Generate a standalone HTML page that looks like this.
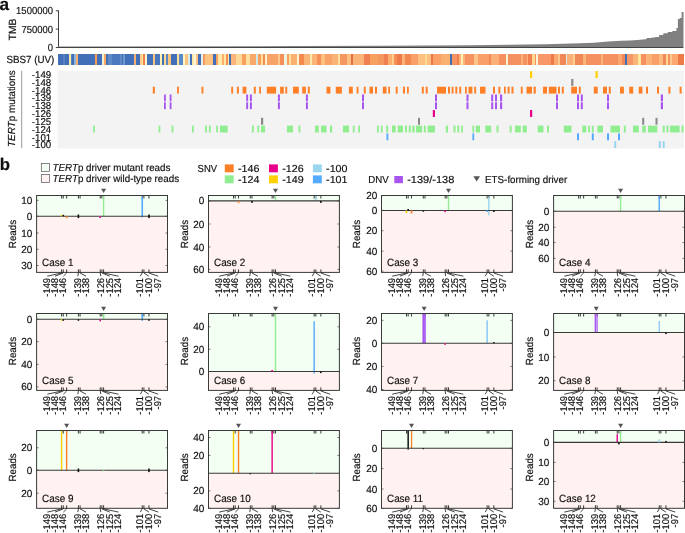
<!DOCTYPE html><html><head><meta charset="utf-8"><style>html,body{margin:0;padding:0;background:#fff;}svg{display:block;filter:grayscale(0);}text{font-family:"Liberation Sans", sans-serif;fill:#111;stroke:#111;stroke-width:0.18px;text-rendering:geometricPrecision;}</style></head><body>
<svg width="685" height="533" viewBox="0 0 685 533">
<text transform="translate(-0.40,9.60)" font-size="17.20" font-weight="bold" fill="#000">a</text>
<line x1="58.5" y1="10.4" x2="58.5" y2="48" stroke="#2a2a2a" stroke-width="0.9"/>
<line x1="55.8" y1="10.8" x2="58.5" y2="10.8" stroke="#2a2a2a" stroke-width="0.9"/>
<text transform="translate(53.00,14.40) scale(0.930,1)" font-size="10.20" text-anchor="end">1500000</text>
<line x1="55.8" y1="29.1" x2="58.5" y2="29.1" stroke="#2a2a2a" stroke-width="0.9"/>
<text transform="translate(53.00,32.70) scale(0.930,1)" font-size="10.20" text-anchor="end">750000</text>
<line x1="55.8" y1="47.5" x2="58.5" y2="47.5" stroke="#2a2a2a" stroke-width="0.9"/>
<text transform="translate(53.00,51.10) scale(0.930,1)" font-size="10.20" text-anchor="end">0</text>
<text transform="translate(15.70,29.50) rotate(-90)" font-size="10.40" text-anchor="middle">TMB</text>
<polygon points="58.0,47.6 58.0,46.5 300.0,46.1 380.0,45.7 470.0,45.2 545.0,44.3 580.0,43.3 594.0,42.8 608.0,41.6 621.0,40.8 630.0,40.5 637.5,40.0 645.7,39.2 645.7,38.9 646.7,38.9 646.7,38.1 651.8,38.1 651.8,37.4 655.0,37.4 655.0,37.0 659.1,37.0 659.1,35.1 663.3,35.1 663.3,33.3 667.8,33.3 667.8,32.1 672.3,32.1 672.3,31.0 676.4,31.0 676.4,28.0 677.9,28.0 677.9,19.0 679.8,19.0 679.8,18.1 681.6,18.1 681.6,12.1 683.5,12.1 683.5,47.6" fill="#808080"/>
<line x1="58" y1="47.5" x2="683.3" y2="47.5" stroke="#444" stroke-width="1.0"/>
<g shape-rendering="crispEdges">
<rect x="57.6" y="54.1" width="5.45" height="10.7" fill="#4170B9"/>
<rect x="63" y="54.1" width="2.05" height="10.7" fill="#5682C2"/>
<rect x="65" y="54.1" width="4.05" height="10.7" fill="#4170B9"/>
<rect x="69" y="54.1" width="1.55" height="10.7" fill="#F8E9A0"/>
<rect x="70.5" y="54.1" width="1.05" height="10.7" fill="#5682C2"/>
<rect x="71.5" y="54.1" width="2.55" height="10.7" fill="#4170B9"/>
<rect x="74" y="54.1" width="1.85" height="10.7" fill="#8DB7DD"/>
<rect x="75.8" y="54.1" width="1.75" height="10.7" fill="#F8B070"/>
<rect x="77.5" y="54.1" width="17.55" height="10.7" fill="#4170B9"/>
<rect x="95" y="54.1" width="2.05" height="10.7" fill="#F59A50"/>
<rect x="97" y="54.1" width="5.05" height="10.7" fill="#4170B9"/>
<rect x="102" y="54.1" width="1.55" height="10.7" fill="#EEF0D0"/>
<rect x="103.5" y="54.1" width="2.55" height="10.7" fill="#F8A860"/>
<rect x="106" y="54.1" width="2.05" height="10.7" fill="#4170B9"/>
<rect x="108" y="54.1" width="4.05" height="10.7" fill="#5E8AC8"/>
<rect x="112" y="54.1" width="8.05" height="10.7" fill="#4A78BC"/>
<rect x="120" y="54.1" width="2.05" height="10.7" fill="#5E8AC8"/>
<rect x="122" y="54.1" width="0.55" height="10.7" fill="#4170B9"/>
<rect x="122.5" y="54.1" width="2.55" height="10.7" fill="#6E97CB"/>
<rect x="125" y="54.1" width="8.85" height="10.7" fill="#4170B9"/>
<rect x="133.8" y="54.1" width="2.05" height="10.7" fill="#F8B070"/>
<rect x="135.8" y="54.1" width="4.25" height="10.7" fill="#4170B9"/>
<rect x="140" y="54.1" width="2.05" height="10.7" fill="#FDCC88"/>
<rect x="142" y="54.1" width="1.35" height="10.7" fill="#FEE8A8"/>
<rect x="143.3" y="54.1" width="1.75" height="10.7" fill="#F0804A"/>
<rect x="145" y="54.1" width="2.05" height="10.7" fill="#FFF6D0"/>
<rect x="147" y="54.1" width="5.75" height="10.7" fill="#4272B8"/>
<rect x="152.7" y="54.1" width="2.05" height="10.7" fill="#FBC27D"/>
<rect x="154.7" y="54.1" width="5.65" height="10.7" fill="#4A78BC"/>
<rect x="160.3" y="54.1" width="1.65" height="10.7" fill="#FEF0B0"/>
<rect x="161.9" y="54.1" width="2.05" height="10.7" fill="#4170B9"/>
<rect x="163.9" y="54.1" width="1.95" height="10.7" fill="#FDD890"/>
<rect x="165.8" y="54.1" width="2.05" height="10.7" fill="#5A87C5"/>
<rect x="167.8" y="54.1" width="3.25" height="10.7" fill="#FDC47E"/>
<rect x="171" y="54.1" width="5.75" height="10.7" fill="#4170B9"/>
<rect x="176.7" y="54.1" width="2.05" height="10.7" fill="#FDE09A"/>
<rect x="178.7" y="54.1" width="4.15" height="10.7" fill="#5A8BC8"/>
<rect x="182.8" y="54.1" width="2.15" height="10.7" fill="#FFF6C8"/>
<rect x="184.9" y="54.1" width="3.05" height="10.7" fill="#FDC47E"/>
<rect x="187.9" y="54.1" width="1.75" height="10.7" fill="#D8ECEE"/>
<rect x="189.6" y="54.1" width="2.65" height="10.7" fill="#4170B9"/>
<rect x="192.2" y="54.1" width="1.55" height="10.7" fill="#FEE8A8"/>
<rect x="193.7" y="54.1" width="2.05" height="10.7" fill="#FFF8D8"/>
<rect x="195.7" y="54.1" width="2.15" height="10.7" fill="#FDC080"/>
<rect x="197.8" y="54.1" width="3.55" height="10.7" fill="#4170B9"/>
<rect x="201.3" y="54.1" width="2.15" height="10.7" fill="#E0F0E8"/>
<rect x="203.4" y="54.1" width="2.05" height="10.7" fill="#F59A60"/>
<rect x="205.4" y="54.1" width="4.15" height="10.7" fill="#FBC480"/>
<rect x="209.5" y="54.1" width="3.15" height="10.7" fill="#FDC080"/>
<rect x="212.6" y="54.1" width="3.65" height="10.7" fill="#4170B9"/>
<rect x="216.2" y="54.1" width="1.55" height="10.7" fill="#F5A060"/>
<rect x="217.7" y="54.1" width="4.65" height="10.7" fill="#FEE8A8"/>
<rect x="222.3" y="54.1" width="1.55" height="10.7" fill="#FBB070"/>
<rect x="223.8" y="54.1" width="2.15" height="10.7" fill="#FEE8A8"/>
<rect x="225.9" y="54.1" width="2.05" height="10.7" fill="#F59050"/>
<rect x="227.9" y="54.1" width="1.55" height="10.7" fill="#FEE8B0"/>
<rect x="229.4" y="54.1" width="1.65" height="10.7" fill="#4170B9"/>
<rect x="231" y="54.1" width="5.05" height="10.7" fill="#FCB478"/>
<rect x="236" y="54.1" width="5.75" height="10.7" fill="#FDD898"/>
<rect x="241.7" y="54.1" width="4.65" height="10.7" fill="#F8A060"/>
<rect x="246.3" y="54.1" width="3.65" height="10.7" fill="#FDE0A0"/>
<rect x="249.9" y="54.1" width="5.75" height="10.7" fill="#F8A868"/>
<rect x="255.6" y="54.1" width="2.15" height="10.7" fill="#D0E8E8"/>
<rect x="257.7" y="54.1" width="3.05" height="10.7" fill="#F8A060"/>
<rect x="260.7" y="54.1" width="2.15" height="10.7" fill="#FDE0A0"/>
<rect x="262.8" y="54.1" width="2.05" height="10.7" fill="#F09050"/>
<rect x="264.8" y="54.1" width="2.15" height="10.7" fill="#FEF0C8"/>
<rect x="266.9" y="54.1" width="10.75" height="10.7" fill="#F8A468"/>
<rect x="277.6" y="54.1" width="2.05" height="10.7" fill="#FBC890"/>
<rect x="279.6" y="54.1" width="4.15" height="10.7" fill="#F59058"/>
<rect x="283.7" y="54.1" width="3.15" height="10.7" fill="#EAF4E0"/>
<rect x="286.8" y="54.1" width="2.05" height="10.7" fill="#F8A060"/>
<rect x="288.8" y="54.1" width="2.15" height="10.7" fill="#FDE0A0"/>
<rect x="290.9" y="54.1" width="6.15" height="10.7" fill="#FAB070"/>
<rect x="297" y="54.1" width="1.55" height="10.7" fill="#FEF4D0"/>
<rect x="298.5" y="54.1" width="5.65" height="10.7" fill="#F58A50"/>
<rect x="304.1" y="54.1" width="6.25" height="10.7" fill="#FBB478"/>
<rect x="310.3" y="54.1" width="1.55" height="10.7" fill="#FDE8A8"/>
<rect x="311.8" y="54.1" width="5.45" height="10.7" fill="#FBB478"/>
<rect x="317.2" y="54.1" width="3.95" height="10.7" fill="#F59058"/>
<rect x="321.1" y="54.1" width="4.15" height="10.7" fill="#FDC080"/>
<rect x="325.2" y="54.1" width="6.75" height="10.7" fill="#F8A468"/>
<rect x="331.9" y="54.1" width="6.15" height="10.7" fill="#FBB478"/>
<rect x="338" y="54.1" width="2.05" height="10.7" fill="#FDE0A0"/>
<rect x="340" y="54.1" width="6.75" height="10.7" fill="#F59860"/>
<rect x="346.7" y="54.1" width="4.05" height="10.7" fill="#FDC080"/>
<rect x="350.7" y="54.1" width="2.15" height="10.7" fill="#E87040"/>
<rect x="352.8" y="54.1" width="11.25" height="10.7" fill="#FBB478"/>
<rect x="364" y="54.1" width="6.25" height="10.7" fill="#F08050"/>
<rect x="370.2" y="54.1" width="8.15" height="10.7" fill="#F8A060"/>
<rect x="378.3" y="54.1" width="5.75" height="10.7" fill="#F59860"/>
<rect x="384" y="54.1" width="4.25" height="10.7" fill="#F08050"/>
<rect x="388.2" y="54.1" width="4.15" height="10.7" fill="#FBB070"/>
<rect x="392.3" y="54.1" width="2.05" height="10.7" fill="#FDD090"/>
<rect x="394.3" y="54.1" width="3.15" height="10.7" fill="#F59058"/>
<rect x="397.4" y="54.1" width="4.15" height="10.7" fill="#EE7A48"/>
<rect x="401.5" y="54.1" width="3.55" height="10.7" fill="#FBB478"/>
<rect x="405" y="54.1" width="5.65" height="10.7" fill="#F08850"/>
<rect x="410.6" y="54.1" width="7.25" height="10.7" fill="#F8A068"/>
<rect x="417.8" y="54.1" width="7.25" height="10.7" fill="#FDC080"/>
<rect x="425" y="54.1" width="2.05" height="10.7" fill="#FDD890"/>
<rect x="427" y="54.1" width="4.05" height="10.7" fill="#FDC080"/>
<rect x="431" y="54.1" width="2.15" height="10.7" fill="#EA7545"/>
<rect x="433.1" y="54.1" width="8.25" height="10.7" fill="#F8A068"/>
<rect x="441.3" y="54.1" width="8.85" height="10.7" fill="#FAB070"/>
<rect x="450.1" y="54.1" width="1.95" height="10.7" fill="#4070B0"/>
<rect x="452" y="54.1" width="5.05" height="10.7" fill="#F59460"/>
<rect x="457" y="54.1" width="2.35" height="10.7" fill="#F08050"/>
<rect x="459.3" y="54.1" width="1.55" height="10.7" fill="#FBB478"/>
<rect x="460.8" y="54.1" width="2.65" height="10.7" fill="#FDF0B0"/>
<rect x="463.4" y="54.1" width="1.55" height="10.7" fill="#FBB478"/>
<rect x="464.9" y="54.1" width="9.25" height="10.7" fill="#F59460"/>
<rect x="474.1" y="54.1" width="3.65" height="10.7" fill="#FDC488"/>
<rect x="477.7" y="54.1" width="11.25" height="10.7" fill="#F8A068"/>
<rect x="488.9" y="54.1" width="2.15" height="10.7" fill="#F08858"/>
<rect x="491" y="54.1" width="8.15" height="10.7" fill="#FAB078"/>
<rect x="499.1" y="54.1" width="6.75" height="10.7" fill="#F59060"/>
<rect x="505.8" y="54.1" width="2.05" height="10.7" fill="#F8F4D0"/>
<rect x="507.8" y="54.1" width="12.95" height="10.7" fill="#F59060"/>
<rect x="520.7" y="54.1" width="2.15" height="10.7" fill="#FBB478"/>
<rect x="522.8" y="54.1" width="4.15" height="10.7" fill="#F59060"/>
<rect x="526.9" y="54.1" width="1.55" height="10.7" fill="#FBB478"/>
<rect x="528.4" y="54.1" width="3.65" height="10.7" fill="#F08050"/>
<rect x="532" y="54.1" width="2.55" height="10.7" fill="#FDD890"/>
<rect x="534.5" y="54.1" width="1.55" height="10.7" fill="#F59060"/>
<rect x="536" y="54.1" width="1.65" height="10.7" fill="#FAF4D8"/>
<rect x="537.6" y="54.1" width="13.35" height="10.7" fill="#F89868"/>
<rect x="550.9" y="54.1" width="3.05" height="10.7" fill="#EE7A4A"/>
<rect x="553.9" y="54.1" width="4.15" height="10.7" fill="#FBA870"/>
<rect x="558" y="54.1" width="2.05" height="10.7" fill="#FDC890"/>
<rect x="560" y="54.1" width="5.75" height="10.7" fill="#F08858"/>
<rect x="565.7" y="54.1" width="1.55" height="10.7" fill="#D8ECE8"/>
<rect x="567.2" y="54.1" width="5.65" height="10.7" fill="#FAB078"/>
<rect x="572.8" y="54.1" width="2.15" height="10.7" fill="#FDD090"/>
<rect x="574.9" y="54.1" width="8.35" height="10.7" fill="#F08858"/>
<rect x="583.2" y="54.1" width="3.05" height="10.7" fill="#FBB478"/>
<rect x="586.2" y="54.1" width="14.35" height="10.7" fill="#F59060"/>
<rect x="600.5" y="54.1" width="2.15" height="10.7" fill="#FBB478"/>
<rect x="602.6" y="54.1" width="15.35" height="10.7" fill="#F59060"/>
<rect x="617.9" y="54.1" width="4.15" height="10.7" fill="#FAA870"/>
<rect x="622" y="54.1" width="3.45" height="10.7" fill="#F08858"/>
<rect x="625.4" y="54.1" width="1.85" height="10.7" fill="#4070B8"/>
<rect x="627.2" y="54.1" width="5.85" height="10.7" fill="#F59868"/>
<rect x="633" y="54.1" width="5.45" height="10.7" fill="#FAB478"/>
<rect x="638.4" y="54.1" width="2.15" height="10.7" fill="#FDE8A0"/>
<rect x="640.5" y="54.1" width="5.15" height="10.7" fill="#F59060"/>
<rect x="645.6" y="54.1" width="6.25" height="10.7" fill="#FBB478"/>
<rect x="651.8" y="54.1" width="7.15" height="10.7" fill="#F8A068"/>
<rect x="658.9" y="54.1" width="4.15" height="10.7" fill="#FDBA80"/>
<rect x="663" y="54.1" width="3.15" height="10.7" fill="#F08858"/>
<rect x="666.1" y="54.1" width="2.05" height="10.7" fill="#FDD890"/>
<rect x="668.1" y="54.1" width="2.15" height="10.7" fill="#F59060"/>
<rect x="670.2" y="54.1" width="2.05" height="10.7" fill="#FDC890"/>
<rect x="672.2" y="54.1" width="5.65" height="10.7" fill="#FAA870"/>
<rect x="677.8" y="54.1" width="6.35" height="10.7" fill="#EE7A48"/>
</g>
<text transform="translate(54.30,62.80) scale(0.950,1)" font-size="10.30" text-anchor="end">SBS7 (UV)</text>
<rect x="57.6" y="70.7" width="626.4" height="77.8" fill="#F3F3F3"/>
<line x1="21.7" y1="70.7" x2="21.7" y2="148.2" stroke="#999" stroke-width="1"/>
<text transform="translate(14.60,108.60) rotate(-90) scale(0.970,1)" font-size="10.20" text-anchor="middle"><tspan font-style="italic">TERT</tspan>p mutations</text>
<text transform="translate(51.20,78.00) scale(0.980,1)" font-size="9.90" text-anchor="end">-149</text>
<text transform="translate(51.20,85.83) scale(0.980,1)" font-size="9.90" text-anchor="end">-148</text>
<text transform="translate(51.20,93.66) scale(0.980,1)" font-size="9.90" text-anchor="end">-146</text>
<text transform="translate(51.20,101.49) scale(0.980,1)" font-size="9.90" text-anchor="end">-139</text>
<text transform="translate(51.20,109.32) scale(0.980,1)" font-size="9.90" text-anchor="end">-138</text>
<text transform="translate(51.20,117.15) scale(0.980,1)" font-size="9.90" text-anchor="end">-126</text>
<text transform="translate(51.20,124.98) scale(0.980,1)" font-size="9.90" text-anchor="end">-125</text>
<text transform="translate(51.20,132.81) scale(0.980,1)" font-size="9.90" text-anchor="end">-124</text>
<text transform="translate(51.20,140.64) scale(0.980,1)" font-size="9.90" text-anchor="end">-101</text>
<text transform="translate(51.20,148.47) scale(0.980,1)" font-size="9.90" text-anchor="end">-100</text>
<rect x="530.00" y="71.15" width="2.20" height="6.88" fill="#FFD000"/>
<rect x="595.50" y="71.15" width="2.20" height="6.88" fill="#FFD000"/>
<rect x="571.20" y="78.93" width="2.20" height="6.88" fill="#888888"/>
<rect x="152.80" y="86.71" width="2.10" height="6.88" fill="#FF7F27"/>
<rect x="177.10" y="86.71" width="1.80" height="6.88" fill="#FF7F27"/>
<rect x="201.50" y="86.71" width="1.90" height="6.88" fill="#FF7F27"/>
<rect x="231.20" y="86.71" width="1.90" height="6.88" fill="#FF7F27"/>
<rect x="236.90" y="86.71" width="2.00" height="6.88" fill="#FF7F27"/>
<rect x="242.60" y="86.71" width="3.80" height="6.88" fill="#FF7F27"/>
<rect x="253.80" y="86.71" width="2.00" height="6.88" fill="#FF7F27"/>
<rect x="259.20" y="86.71" width="1.80" height="6.88" fill="#FF7F27"/>
<rect x="266.80" y="86.71" width="9.30" height="6.88" fill="#FF7F27"/>
<rect x="280.10" y="86.71" width="3.70" height="6.88" fill="#FF7F27"/>
<rect x="285.30" y="86.71" width="1.90" height="6.88" fill="#FF7F27"/>
<rect x="293.00" y="86.71" width="5.80" height="6.88" fill="#FF7F27"/>
<rect x="302.20" y="86.71" width="3.70" height="6.88" fill="#FF7F27"/>
<rect x="307.80" y="86.71" width="2.00" height="6.88" fill="#FF7F27"/>
<rect x="326.50" y="86.71" width="3.90" height="6.88" fill="#FF7F27"/>
<rect x="335.80" y="86.71" width="6.10" height="6.88" fill="#FF7F27"/>
<rect x="348.90" y="86.71" width="3.90" height="6.88" fill="#FF7F27"/>
<rect x="356.60" y="86.71" width="1.90" height="6.88" fill="#FF7F27"/>
<rect x="363.80" y="86.71" width="1.90" height="6.88" fill="#FF7F27"/>
<rect x="369.50" y="86.71" width="3.50" height="6.88" fill="#FF7F27"/>
<rect x="375.00" y="86.71" width="2.00" height="6.88" fill="#FF7F27"/>
<rect x="382.80" y="86.71" width="3.70" height="6.88" fill="#FF7F27"/>
<rect x="388.20" y="86.71" width="1.80" height="6.88" fill="#FF7F27"/>
<rect x="395.70" y="86.71" width="2.00" height="6.88" fill="#FF7F27"/>
<rect x="403.00" y="86.71" width="2.00" height="6.88" fill="#FF7F27"/>
<rect x="407.00" y="86.71" width="1.80" height="6.88" fill="#FF7F27"/>
<rect x="421.80" y="86.71" width="2.00" height="6.88" fill="#FF7F27"/>
<rect x="425.70" y="86.71" width="2.00" height="6.88" fill="#FF7F27"/>
<rect x="437.00" y="86.71" width="9.00" height="6.88" fill="#FF7F27"/>
<rect x="448.00" y="86.71" width="2.00" height="6.88" fill="#FF7F27"/>
<rect x="451.60" y="86.71" width="1.90" height="6.88" fill="#FF7F27"/>
<rect x="455.30" y="86.71" width="2.00" height="6.88" fill="#FF7F27"/>
<rect x="459.20" y="86.71" width="2.00" height="6.88" fill="#FF7F27"/>
<rect x="465.00" y="86.71" width="1.80" height="6.88" fill="#FF7F27"/>
<rect x="468.50" y="86.71" width="3.90" height="6.88" fill="#FF7F27"/>
<rect x="474.20" y="86.71" width="1.90" height="6.88" fill="#FF7F27"/>
<rect x="480.00" y="86.71" width="5.50" height="6.88" fill="#FF7F27"/>
<rect x="493.00" y="86.71" width="2.00" height="6.88" fill="#FF7F27"/>
<rect x="498.40" y="86.71" width="2.00" height="6.88" fill="#FF7F27"/>
<rect x="504.00" y="86.71" width="1.80" height="6.88" fill="#FF7F27"/>
<rect x="507.60" y="86.71" width="2.00" height="6.88" fill="#FF7F27"/>
<rect x="511.50" y="86.71" width="2.00" height="6.88" fill="#FF7F27"/>
<rect x="520.80" y="86.71" width="1.90" height="6.88" fill="#FF7F27"/>
<rect x="526.50" y="86.71" width="5.50" height="6.88" fill="#FF7F27"/>
<rect x="533.60" y="86.71" width="2.20" height="6.88" fill="#FF7F27"/>
<rect x="543.00" y="86.71" width="4.00" height="6.88" fill="#FF7F27"/>
<rect x="548.80" y="86.71" width="7.70" height="6.88" fill="#FF7F27"/>
<rect x="558.00" y="86.71" width="2.00" height="6.88" fill="#FF7F27"/>
<rect x="561.80" y="86.71" width="2.00" height="6.88" fill="#FF7F27"/>
<rect x="571.20" y="86.71" width="5.80" height="6.88" fill="#FF7F27"/>
<rect x="578.80" y="86.71" width="2.00" height="6.88" fill="#FF7F27"/>
<rect x="593.80" y="86.71" width="3.90" height="6.88" fill="#FF7F27"/>
<rect x="603.00" y="86.71" width="4.00" height="6.88" fill="#FF7F27"/>
<rect x="608.80" y="86.71" width="2.00" height="6.88" fill="#FF7F27"/>
<rect x="620.00" y="86.71" width="3.90" height="6.88" fill="#FF7F27"/>
<rect x="629.20" y="86.71" width="4.00" height="6.88" fill="#FF7F27"/>
<rect x="638.70" y="86.71" width="3.70" height="6.88" fill="#FF7F27"/>
<rect x="646.00" y="86.71" width="2.00" height="6.88" fill="#FF7F27"/>
<rect x="657.00" y="86.71" width="2.00" height="6.88" fill="#FF7F27"/>
<rect x="668.40" y="86.71" width="2.00" height="6.88" fill="#FF7F27"/>
<rect x="679.60" y="86.71" width="2.00" height="6.88" fill="#FF7F27"/>
<rect x="432.80" y="110.05" width="2.20" height="6.88" fill="#E8008A"/>
<rect x="530.00" y="110.05" width="2.20" height="6.88" fill="#E8008A"/>
<rect x="261.00" y="117.83" width="2.20" height="6.88" fill="#888888"/>
<rect x="418.00" y="117.83" width="2.00" height="6.88" fill="#888888"/>
<rect x="642.20" y="117.83" width="2.00" height="6.88" fill="#888888"/>
<rect x="655.50" y="117.83" width="2.00" height="6.88" fill="#888888"/>
<rect x="93.20" y="125.61" width="1.80" height="6.88" fill="#90EE90"/>
<rect x="158.50" y="125.61" width="1.80" height="6.88" fill="#90EE90"/>
<rect x="171.50" y="125.61" width="1.90" height="6.88" fill="#90EE90"/>
<rect x="192.00" y="125.61" width="1.80" height="6.88" fill="#90EE90"/>
<rect x="205.00" y="125.61" width="1.90" height="6.88" fill="#90EE90"/>
<rect x="208.90" y="125.61" width="1.90" height="6.88" fill="#90EE90"/>
<rect x="216.20" y="125.61" width="1.80" height="6.88" fill="#90EE90"/>
<rect x="220.00" y="125.61" width="7.70" height="6.88" fill="#90EE90"/>
<rect x="251.90" y="125.61" width="1.90" height="6.88" fill="#90EE90"/>
<rect x="257.30" y="125.61" width="1.90" height="6.88" fill="#90EE90"/>
<rect x="261.00" y="125.61" width="4.00" height="6.88" fill="#90EE90"/>
<rect x="287.00" y="125.61" width="6.00" height="6.88" fill="#90EE90"/>
<rect x="298.50" y="125.61" width="1.90" height="6.88" fill="#90EE90"/>
<rect x="315.00" y="125.61" width="3.80" height="6.88" fill="#90EE90"/>
<rect x="321.00" y="125.61" width="5.50" height="6.88" fill="#90EE90"/>
<rect x="330.00" y="125.61" width="2.20" height="6.88" fill="#90EE90"/>
<rect x="343.00" y="125.61" width="6.00" height="6.88" fill="#90EE90"/>
<rect x="352.80" y="125.61" width="1.80" height="6.88" fill="#90EE90"/>
<rect x="358.20" y="125.61" width="1.80" height="6.88" fill="#90EE90"/>
<rect x="377.00" y="125.61" width="1.80" height="6.88" fill="#90EE90"/>
<rect x="380.80" y="125.61" width="1.80" height="6.88" fill="#90EE90"/>
<rect x="386.20" y="125.61" width="2.00" height="6.88" fill="#90EE90"/>
<rect x="392.00" y="125.61" width="3.70" height="6.88" fill="#90EE90"/>
<rect x="397.70" y="125.61" width="5.30" height="6.88" fill="#90EE90"/>
<rect x="405.00" y="125.61" width="2.00" height="6.88" fill="#90EE90"/>
<rect x="408.80" y="125.61" width="2.00" height="6.88" fill="#90EE90"/>
<rect x="412.30" y="125.61" width="2.30" height="6.88" fill="#90EE90"/>
<rect x="416.00" y="125.61" width="6.00" height="6.88" fill="#90EE90"/>
<rect x="423.80" y="125.61" width="2.00" height="6.88" fill="#90EE90"/>
<rect x="427.70" y="125.61" width="7.30" height="6.88" fill="#90EE90"/>
<rect x="445.80" y="125.61" width="2.20" height="6.88" fill="#90EE90"/>
<rect x="453.50" y="125.61" width="2.00" height="6.88" fill="#90EE90"/>
<rect x="457.30" y="125.61" width="2.00" height="6.88" fill="#90EE90"/>
<rect x="461.20" y="125.61" width="1.80" height="6.88" fill="#90EE90"/>
<rect x="472.40" y="125.61" width="1.80" height="6.88" fill="#90EE90"/>
<rect x="475.80" y="125.61" width="4.20" height="6.88" fill="#90EE90"/>
<rect x="485.30" y="125.61" width="5.90" height="6.88" fill="#90EE90"/>
<rect x="496.50" y="125.61" width="2.00" height="6.88" fill="#90EE90"/>
<rect x="509.60" y="125.61" width="2.00" height="6.88" fill="#90EE90"/>
<rect x="515.00" y="125.61" width="5.80" height="6.88" fill="#90EE90"/>
<rect x="522.70" y="125.61" width="4.10" height="6.88" fill="#90EE90"/>
<rect x="537.70" y="125.61" width="5.70" height="6.88" fill="#90EE90"/>
<rect x="547.00" y="125.61" width="2.00" height="6.88" fill="#90EE90"/>
<rect x="563.80" y="125.61" width="7.70" height="6.88" fill="#90EE90"/>
<rect x="582.30" y="125.61" width="3.90" height="6.88" fill="#90EE90"/>
<rect x="588.20" y="125.61" width="1.80" height="6.88" fill="#90EE90"/>
<rect x="591.80" y="125.61" width="2.00" height="6.88" fill="#90EE90"/>
<rect x="597.40" y="125.61" width="5.60" height="6.88" fill="#90EE90"/>
<rect x="610.50" y="125.61" width="9.50" height="6.88" fill="#90EE90"/>
<rect x="623.80" y="125.61" width="2.00" height="6.88" fill="#90EE90"/>
<rect x="633.00" y="125.61" width="5.80" height="6.88" fill="#90EE90"/>
<rect x="642.20" y="125.61" width="3.60" height="6.88" fill="#90EE90"/>
<rect x="648.00" y="125.61" width="9.30" height="6.88" fill="#90EE90"/>
<rect x="662.70" y="125.61" width="2.00" height="6.88" fill="#90EE90"/>
<rect x="666.50" y="125.61" width="2.00" height="6.88" fill="#90EE90"/>
<rect x="670.00" y="125.61" width="9.60" height="6.88" fill="#90EE90"/>
<rect x="681.50" y="125.61" width="2.00" height="6.88" fill="#90EE90"/>
<rect x="386.50" y="133.39" width="1.80" height="6.88" fill="#55AAFF"/>
<rect x="472.40" y="133.39" width="1.80" height="6.88" fill="#55AAFF"/>
<rect x="577.00" y="133.39" width="2.00" height="6.88" fill="#55AAFF"/>
<rect x="591.80" y="133.39" width="2.00" height="6.88" fill="#55AAFF"/>
<rect x="607.00" y="133.39" width="2.00" height="6.88" fill="#55AAFF"/>
<rect x="618.00" y="133.39" width="2.00" height="6.88" fill="#55AAFF"/>
<rect x="614.20" y="141.17" width="2.00" height="6.88" fill="#9AD5F0"/>
<rect x="658.80" y="141.17" width="2.00" height="6.88" fill="#9AD5F0"/>
<rect x="662.70" y="141.17" width="2.00" height="6.88" fill="#9AD5F0"/>
<rect x="164.00" y="94.49" width="1.80" height="6.88" fill="#A855F0"/>
<rect x="169.70" y="94.49" width="1.80" height="6.88" fill="#A855F0"/>
<rect x="246.20" y="94.49" width="1.90" height="6.88" fill="#A855F0"/>
<rect x="249.90" y="94.49" width="2.00" height="6.88" fill="#A855F0"/>
<rect x="277.90" y="94.49" width="2.00" height="6.88" fill="#A855F0"/>
<rect x="305.90" y="94.49" width="2.00" height="6.88" fill="#A855F0"/>
<rect x="362.00" y="94.49" width="2.00" height="6.88" fill="#A855F0"/>
<rect x="435.00" y="94.49" width="2.00" height="6.88" fill="#A855F0"/>
<rect x="466.50" y="94.49" width="2.00" height="6.88" fill="#A855F0"/>
<rect x="491.20" y="94.49" width="2.00" height="6.88" fill="#A855F0"/>
<rect x="495.00" y="94.49" width="2.00" height="6.88" fill="#A855F0"/>
<rect x="500.00" y="94.49" width="2.20" height="6.88" fill="#A855F0"/>
<rect x="556.00" y="94.49" width="2.00" height="6.88" fill="#A855F0"/>
<rect x="577.00" y="94.49" width="2.00" height="6.88" fill="#A855F0"/>
<rect x="580.80" y="94.49" width="2.00" height="6.88" fill="#A855F0"/>
<rect x="607.00" y="94.49" width="2.00" height="6.88" fill="#A855F0"/>
<rect x="660.80" y="94.49" width="2.20" height="6.88" fill="#A855F0"/>
<rect x="164.00" y="102.27" width="1.80" height="6.88" fill="#A855F0"/>
<rect x="169.70" y="102.27" width="1.80" height="6.88" fill="#A855F0"/>
<rect x="246.20" y="102.27" width="1.90" height="6.88" fill="#A855F0"/>
<rect x="249.90" y="102.27" width="2.00" height="6.88" fill="#A855F0"/>
<rect x="277.90" y="102.27" width="2.00" height="6.88" fill="#A855F0"/>
<rect x="305.90" y="102.27" width="2.00" height="6.88" fill="#A855F0"/>
<rect x="362.00" y="102.27" width="2.00" height="6.88" fill="#A855F0"/>
<rect x="435.00" y="102.27" width="2.00" height="6.88" fill="#A855F0"/>
<rect x="466.50" y="102.27" width="2.00" height="6.88" fill="#A855F0"/>
<rect x="491.20" y="102.27" width="2.00" height="6.88" fill="#A855F0"/>
<rect x="495.00" y="102.27" width="2.00" height="6.88" fill="#A855F0"/>
<rect x="500.00" y="102.27" width="2.20" height="6.88" fill="#A855F0"/>
<rect x="556.00" y="102.27" width="2.00" height="6.88" fill="#A855F0"/>
<rect x="577.00" y="102.27" width="2.00" height="6.88" fill="#A855F0"/>
<rect x="580.80" y="102.27" width="2.00" height="6.88" fill="#A855F0"/>
<rect x="607.00" y="102.27" width="2.00" height="6.88" fill="#A855F0"/>
<rect x="660.80" y="102.27" width="2.20" height="6.88" fill="#A855F0"/>
<text transform="translate(-0.20,170.20)" font-size="16.80" font-weight="bold" fill="#000">b</text>
<rect x="41.3" y="163.5" width="8.1" height="7.9" fill="#F2FFF2" stroke="#555" stroke-width="0.7"/>
<rect x="41.3" y="174.5" width="8.1" height="7.9" fill="#FFF2F0" stroke="#555" stroke-width="0.7"/>
<text transform="translate(52.60,170.80) scale(0.960,1)" font-size="10.20"><tspan font-style="italic">TERT</tspan>p driver mutant reads</text>
<text transform="translate(52.60,181.60) scale(0.960,1)" font-size="10.20"><tspan font-style="italic">TERT</tspan>p driver wild-type reads</text>
<text transform="translate(197.60,172.10) scale(0.930,1)" font-size="10.20">SNV</text>
<rect x="224.8" y="164.4" width="8.9" height="7.9" fill="#FF7F27"/>
<text transform="translate(238.00,172.10) scale(1.050,1)" font-size="10.20">-146</text>
<rect x="224.8" y="175.4" width="8.9" height="7.9" fill="#90EE90"/>
<text transform="translate(238.00,183.00) scale(1.050,1)" font-size="10.20">-124</text>
<rect x="269.0" y="164.4" width="8.9" height="7.9" fill="#E8008A"/>
<text transform="translate(282.20,172.10) scale(1.050,1)" font-size="10.20">-126</text>
<rect x="269.0" y="175.4" width="8.9" height="7.9" fill="#FFD000"/>
<text transform="translate(282.20,183.00) scale(1.050,1)" font-size="10.20">-149</text>
<rect x="312.9" y="164.4" width="8.9" height="7.9" fill="#9AD5F0"/>
<text transform="translate(326.10,172.10) scale(1.050,1)" font-size="10.20">-100</text>
<rect x="312.9" y="175.4" width="8.9" height="7.9" fill="#55AAFF"/>
<text transform="translate(326.10,183.00) scale(1.050,1)" font-size="10.20">-101</text>
<text transform="translate(368.20,183.00) scale(0.950,1)" font-size="10.20">DNV</text>
<rect x="394.3" y="176.0" width="8.6" height="7.2" fill="#A855F0"/>
<text transform="translate(407.20,183.00) scale(1.080,1)" font-size="10.20">-139/-138</text>
<polygon points="473.4,176.2 480.0,176.2 476.7,181.6" fill="#555"/>
<text transform="translate(485.10,183.00) scale(0.960,1)" font-size="10.20">ETS-forming driver</text>
<rect x="36.6" y="195.5" width="130.9" height="20.80" fill="#F2FFF2"/>
<rect x="36.6" y="216.3" width="130.9" height="56.10" fill="#FFF2F0"/>
<line x1="61.60" y1="195.5" x2="61.60" y2="198.50" stroke="#222" stroke-width="0.9"/>
<line x1="61.60" y1="272.4" x2="61.60" y2="269.40" stroke="#222" stroke-width="0.9"/>
<line x1="63.28" y1="195.5" x2="63.28" y2="198.50" stroke="#222" stroke-width="0.9"/>
<line x1="63.28" y1="272.4" x2="63.28" y2="269.40" stroke="#222" stroke-width="0.9"/>
<line x1="66.64" y1="195.5" x2="66.64" y2="198.50" stroke="#222" stroke-width="0.9"/>
<line x1="66.64" y1="272.4" x2="66.64" y2="269.40" stroke="#222" stroke-width="0.9"/>
<line x1="78.40" y1="195.5" x2="78.40" y2="198.50" stroke="#222" stroke-width="0.9"/>
<line x1="78.40" y1="272.4" x2="78.40" y2="269.40" stroke="#222" stroke-width="0.9"/>
<line x1="80.08" y1="195.5" x2="80.08" y2="198.50" stroke="#222" stroke-width="0.9"/>
<line x1="80.08" y1="272.4" x2="80.08" y2="269.40" stroke="#222" stroke-width="0.9"/>
<line x1="100.24" y1="195.5" x2="100.24" y2="198.50" stroke="#222" stroke-width="0.9"/>
<line x1="100.24" y1="272.4" x2="100.24" y2="269.40" stroke="#222" stroke-width="0.9"/>
<line x1="101.92" y1="195.5" x2="101.92" y2="198.50" stroke="#222" stroke-width="0.9"/>
<line x1="101.92" y1="272.4" x2="101.92" y2="269.40" stroke="#222" stroke-width="0.9"/>
<line x1="103.60" y1="195.5" x2="103.60" y2="198.50" stroke="#222" stroke-width="0.9"/>
<line x1="103.60" y1="272.4" x2="103.60" y2="269.40" stroke="#222" stroke-width="0.9"/>
<line x1="142.24" y1="195.5" x2="142.24" y2="198.50" stroke="#222" stroke-width="0.9"/>
<line x1="142.24" y1="272.4" x2="142.24" y2="269.40" stroke="#222" stroke-width="0.9"/>
<line x1="143.92" y1="195.5" x2="143.92" y2="198.50" stroke="#222" stroke-width="0.9"/>
<line x1="143.92" y1="272.4" x2="143.92" y2="269.40" stroke="#222" stroke-width="0.9"/>
<line x1="148.96" y1="195.5" x2="148.96" y2="198.50" stroke="#222" stroke-width="0.9"/>
<line x1="148.96" y1="272.4" x2="148.96" y2="269.40" stroke="#222" stroke-width="0.9"/>
<line x1="36.6" y1="200.4" x2="38.6" y2="200.4" stroke="#444" stroke-width="0.7"/>
<line x1="165.5" y1="200.4" x2="167.5" y2="200.4" stroke="#444" stroke-width="0.7"/>
<text transform="translate(32.40,203.90) scale(0.970,1)" font-size="10.30" text-anchor="end">10</text>
<line x1="36.6" y1="216.3" x2="38.6" y2="216.3" stroke="#444" stroke-width="0.7"/>
<line x1="165.5" y1="216.3" x2="167.5" y2="216.3" stroke="#444" stroke-width="0.7"/>
<text transform="translate(32.40,219.80) scale(0.970,1)" font-size="10.30" text-anchor="end">0</text>
<line x1="36.6" y1="233.0" x2="38.6" y2="233.0" stroke="#444" stroke-width="0.7"/>
<line x1="165.5" y1="233.0" x2="167.5" y2="233.0" stroke="#444" stroke-width="0.7"/>
<text transform="translate(32.40,236.50) scale(0.970,1)" font-size="10.30" text-anchor="end">10</text>
<line x1="36.6" y1="249.3" x2="38.6" y2="249.3" stroke="#444" stroke-width="0.7"/>
<line x1="165.5" y1="249.3" x2="167.5" y2="249.3" stroke="#444" stroke-width="0.7"/>
<text transform="translate(32.40,252.80) scale(0.970,1)" font-size="10.30" text-anchor="end">20</text>
<line x1="36.6" y1="265.5" x2="38.6" y2="265.5" stroke="#444" stroke-width="0.7"/>
<line x1="165.5" y1="265.5" x2="167.5" y2="265.5" stroke="#444" stroke-width="0.7"/>
<text transform="translate(32.40,269.00) scale(0.970,1)" font-size="10.30" text-anchor="end">30</text>
<rect x="102.95" y="195.50" width="1.3" height="20.80" fill="#90EE90"/>
<rect x="141.44" y="196.70" width="1.6" height="20.70" fill="#55AAFF"/>
<line x1="36.6" y1="216.3" x2="167.5" y2="216.3" stroke="#3a3a3a" stroke-width="1.1"/>
<rect x="60.80" y="214.90" width="1.6" height="1.4" fill="#FFD000"/>
<rect x="62.48" y="214.80" width="1.6" height="1.5" fill="#111"/>
<rect x="65.84" y="216.30" width="1.6" height="1.8" fill="#FF7F27"/>
<rect x="77.60" y="214.50" width="1.6" height="3.6" fill="#111"/>
<rect x="99.44" y="216.30" width="1.6" height="1.6" fill="#E8008A"/>
<rect x="148.16" y="214.50" width="1.6" height="3.6" fill="#111"/>
<rect x="36.6" y="195.5" width="130.9" height="76.90" fill="none" stroke="#3a3a3a" stroke-width="1"/>
<polygon points="101.10,188.70 106.10,188.70 103.60,193.10" fill="#555"/>
<text transform="translate(42.10,265.80) scale(0.940,1)" font-size="10.50">Case 1</text>
<text transform="translate(15.90,234.00) rotate(-90) scale(0.950,1)" font-size="10.30" text-anchor="middle">Reads</text>
<polyline points="61.60,272.4 61.60,273.00 47.30,276.20" fill="none" stroke="#222" stroke-width="0.85"/>
<text transform="translate(50.10,277.90) rotate(-90) scale(0.960,1)" font-size="9.80" text-anchor="end">-149</text>
<polyline points="63.28,272.4 63.28,273.00 55.00,276.20" fill="none" stroke="#222" stroke-width="0.85"/>
<text transform="translate(57.80,277.90) rotate(-90) scale(0.960,1)" font-size="9.80" text-anchor="end">-148</text>
<polyline points="66.64,272.4 66.64,273.00 63.40,276.20" fill="none" stroke="#222" stroke-width="0.85"/>
<text transform="translate(66.20,277.90) rotate(-90) scale(0.960,1)" font-size="9.80" text-anchor="end">-146</text>
<polyline points="78.40,272.4 78.40,273.00 77.80,276.20" fill="none" stroke="#222" stroke-width="0.85"/>
<text transform="translate(80.60,277.90) rotate(-90) scale(0.960,1)" font-size="9.80" text-anchor="end">-139</text>
<polyline points="80.08,272.4 80.08,273.00 86.00,276.20" fill="none" stroke="#222" stroke-width="0.85"/>
<text transform="translate(88.80,277.90) rotate(-90) scale(0.960,1)" font-size="9.80" text-anchor="end">-138</text>
<polyline points="100.24,272.4 100.24,273.00 100.80,276.20" fill="none" stroke="#222" stroke-width="0.85"/>
<text transform="translate(103.60,277.90) rotate(-90) scale(0.960,1)" font-size="9.80" text-anchor="end">-126</text>
<polyline points="101.92,272.4 101.92,273.00 109.80,276.20" fill="none" stroke="#222" stroke-width="0.85"/>
<text transform="translate(112.60,277.90) rotate(-90) scale(0.960,1)" font-size="9.80" text-anchor="end">-125</text>
<polyline points="103.60,272.4 103.60,273.00 118.50,276.20" fill="none" stroke="#222" stroke-width="0.85"/>
<text transform="translate(121.30,277.90) rotate(-90) scale(0.960,1)" font-size="9.80" text-anchor="end">-124</text>
<polyline points="142.24,272.4 142.24,273.00 140.30,276.20" fill="none" stroke="#222" stroke-width="0.85"/>
<text transform="translate(143.10,277.90) rotate(-90) scale(0.960,1)" font-size="9.80" text-anchor="end">-101</text>
<polyline points="143.92,272.4 143.92,273.00 148.90,276.20" fill="none" stroke="#222" stroke-width="0.85"/>
<text transform="translate(151.70,277.90) rotate(-90) scale(0.960,1)" font-size="9.80" text-anchor="end">-100</text>
<polyline points="148.96,272.4 148.96,273.00 158.20,276.20" fill="none" stroke="#222" stroke-width="0.85"/>
<text transform="translate(161.00,277.90) rotate(-90) scale(0.960,1)" font-size="9.80" text-anchor="end">-97</text>
<rect x="208.5" y="195.5" width="130.9" height="5.40" fill="#F2FFF2"/>
<rect x="208.5" y="200.9" width="130.9" height="71.50" fill="#FFF2F0"/>
<line x1="233.50" y1="195.5" x2="233.50" y2="198.50" stroke="#222" stroke-width="0.9"/>
<line x1="233.50" y1="272.4" x2="233.50" y2="269.40" stroke="#222" stroke-width="0.9"/>
<line x1="235.18" y1="195.5" x2="235.18" y2="198.50" stroke="#222" stroke-width="0.9"/>
<line x1="235.18" y1="272.4" x2="235.18" y2="269.40" stroke="#222" stroke-width="0.9"/>
<line x1="238.54" y1="195.5" x2="238.54" y2="198.50" stroke="#222" stroke-width="0.9"/>
<line x1="238.54" y1="272.4" x2="238.54" y2="269.40" stroke="#222" stroke-width="0.9"/>
<line x1="250.30" y1="195.5" x2="250.30" y2="198.50" stroke="#222" stroke-width="0.9"/>
<line x1="250.30" y1="272.4" x2="250.30" y2="269.40" stroke="#222" stroke-width="0.9"/>
<line x1="251.98" y1="195.5" x2="251.98" y2="198.50" stroke="#222" stroke-width="0.9"/>
<line x1="251.98" y1="272.4" x2="251.98" y2="269.40" stroke="#222" stroke-width="0.9"/>
<line x1="272.14" y1="195.5" x2="272.14" y2="198.50" stroke="#222" stroke-width="0.9"/>
<line x1="272.14" y1="272.4" x2="272.14" y2="269.40" stroke="#222" stroke-width="0.9"/>
<line x1="273.82" y1="195.5" x2="273.82" y2="198.50" stroke="#222" stroke-width="0.9"/>
<line x1="273.82" y1="272.4" x2="273.82" y2="269.40" stroke="#222" stroke-width="0.9"/>
<line x1="275.50" y1="195.5" x2="275.50" y2="198.50" stroke="#222" stroke-width="0.9"/>
<line x1="275.50" y1="272.4" x2="275.50" y2="269.40" stroke="#222" stroke-width="0.9"/>
<line x1="314.14" y1="195.5" x2="314.14" y2="198.50" stroke="#222" stroke-width="0.9"/>
<line x1="314.14" y1="272.4" x2="314.14" y2="269.40" stroke="#222" stroke-width="0.9"/>
<line x1="315.82" y1="195.5" x2="315.82" y2="198.50" stroke="#222" stroke-width="0.9"/>
<line x1="315.82" y1="272.4" x2="315.82" y2="269.40" stroke="#222" stroke-width="0.9"/>
<line x1="320.86" y1="195.5" x2="320.86" y2="198.50" stroke="#222" stroke-width="0.9"/>
<line x1="320.86" y1="272.4" x2="320.86" y2="269.40" stroke="#222" stroke-width="0.9"/>
<line x1="208.5" y1="200.9" x2="210.5" y2="200.9" stroke="#444" stroke-width="0.7"/>
<line x1="337.4" y1="200.9" x2="339.4" y2="200.9" stroke="#444" stroke-width="0.7"/>
<text transform="translate(204.30,204.40) scale(0.970,1)" font-size="10.30" text-anchor="end">0</text>
<line x1="208.5" y1="224.0" x2="210.5" y2="224.0" stroke="#444" stroke-width="0.7"/>
<line x1="337.4" y1="224.0" x2="339.4" y2="224.0" stroke="#444" stroke-width="0.7"/>
<text transform="translate(204.30,227.50) scale(0.970,1)" font-size="10.30" text-anchor="end">20</text>
<line x1="208.5" y1="247.0" x2="210.5" y2="247.0" stroke="#444" stroke-width="0.7"/>
<line x1="337.4" y1="247.0" x2="339.4" y2="247.0" stroke="#444" stroke-width="0.7"/>
<text transform="translate(204.30,250.50) scale(0.970,1)" font-size="10.30" text-anchor="end">40</text>
<line x1="208.5" y1="269.4" x2="210.5" y2="269.4" stroke="#444" stroke-width="0.7"/>
<line x1="337.4" y1="269.4" x2="339.4" y2="269.4" stroke="#444" stroke-width="0.7"/>
<text transform="translate(204.30,272.90) scale(0.970,1)" font-size="10.30" text-anchor="end">60</text>
<rect x="274.85" y="195.50" width="1.3" height="5.40" fill="#90EE90"/>
<rect x="315.17" y="195.50" width="1.3" height="5.40" fill="#9AD5F0"/>
<line x1="208.5" y1="200.9" x2="339.4" y2="200.9" stroke="#3a3a3a" stroke-width="1.1"/>
<rect x="237.74" y="200.90" width="1.6" height="2" fill="#FF7F27"/>
<rect x="251.18" y="200.90" width="1.6" height="2" fill="#111"/>
<rect x="320.06" y="200.90" width="1.6" height="2" fill="#111"/>
<rect x="208.5" y="195.5" width="130.9" height="76.90" fill="none" stroke="#3a3a3a" stroke-width="1"/>
<polygon points="273.00,188.70 278.00,188.70 275.50,193.10" fill="#555"/>
<text transform="translate(214.00,265.80) scale(0.940,1)" font-size="10.50">Case 2</text>
<text transform="translate(187.60,234.00) rotate(-90) scale(0.950,1)" font-size="10.30" text-anchor="middle">Reads</text>
<polyline points="233.50,272.4 233.50,273.00 219.20,276.20" fill="none" stroke="#222" stroke-width="0.85"/>
<text transform="translate(222.00,277.90) rotate(-90) scale(0.960,1)" font-size="9.80" text-anchor="end">-149</text>
<polyline points="235.18,272.4 235.18,273.00 226.90,276.20" fill="none" stroke="#222" stroke-width="0.85"/>
<text transform="translate(229.70,277.90) rotate(-90) scale(0.960,1)" font-size="9.80" text-anchor="end">-148</text>
<polyline points="238.54,272.4 238.54,273.00 235.30,276.20" fill="none" stroke="#222" stroke-width="0.85"/>
<text transform="translate(238.10,277.90) rotate(-90) scale(0.960,1)" font-size="9.80" text-anchor="end">-146</text>
<polyline points="250.30,272.4 250.30,273.00 249.70,276.20" fill="none" stroke="#222" stroke-width="0.85"/>
<text transform="translate(252.50,277.90) rotate(-90) scale(0.960,1)" font-size="9.80" text-anchor="end">-139</text>
<polyline points="251.98,272.4 251.98,273.00 257.90,276.20" fill="none" stroke="#222" stroke-width="0.85"/>
<text transform="translate(260.70,277.90) rotate(-90) scale(0.960,1)" font-size="9.80" text-anchor="end">-138</text>
<polyline points="272.14,272.4 272.14,273.00 272.70,276.20" fill="none" stroke="#222" stroke-width="0.85"/>
<text transform="translate(275.50,277.90) rotate(-90) scale(0.960,1)" font-size="9.80" text-anchor="end">-126</text>
<polyline points="273.82,272.4 273.82,273.00 281.70,276.20" fill="none" stroke="#222" stroke-width="0.85"/>
<text transform="translate(284.50,277.90) rotate(-90) scale(0.960,1)" font-size="9.80" text-anchor="end">-125</text>
<polyline points="275.50,272.4 275.50,273.00 290.40,276.20" fill="none" stroke="#222" stroke-width="0.85"/>
<text transform="translate(293.20,277.90) rotate(-90) scale(0.960,1)" font-size="9.80" text-anchor="end">-124</text>
<polyline points="314.14,272.4 314.14,273.00 312.20,276.20" fill="none" stroke="#222" stroke-width="0.85"/>
<text transform="translate(315.00,277.90) rotate(-90) scale(0.960,1)" font-size="9.80" text-anchor="end">-101</text>
<polyline points="315.82,272.4 315.82,273.00 320.80,276.20" fill="none" stroke="#222" stroke-width="0.85"/>
<text transform="translate(323.60,277.90) rotate(-90) scale(0.960,1)" font-size="9.80" text-anchor="end">-100</text>
<polyline points="320.86,272.4 320.86,273.00 330.10,276.20" fill="none" stroke="#222" stroke-width="0.85"/>
<text transform="translate(332.90,277.90) rotate(-90) scale(0.960,1)" font-size="9.80" text-anchor="end">-97</text>
<rect x="381.5" y="195.5" width="130.9" height="15.00" fill="#F2FFF2"/>
<rect x="381.5" y="210.5" width="130.9" height="61.90" fill="#FFF2F0"/>
<line x1="406.50" y1="195.5" x2="406.50" y2="198.50" stroke="#222" stroke-width="0.9"/>
<line x1="406.50" y1="272.4" x2="406.50" y2="269.40" stroke="#222" stroke-width="0.9"/>
<line x1="408.18" y1="195.5" x2="408.18" y2="198.50" stroke="#222" stroke-width="0.9"/>
<line x1="408.18" y1="272.4" x2="408.18" y2="269.40" stroke="#222" stroke-width="0.9"/>
<line x1="411.54" y1="195.5" x2="411.54" y2="198.50" stroke="#222" stroke-width="0.9"/>
<line x1="411.54" y1="272.4" x2="411.54" y2="269.40" stroke="#222" stroke-width="0.9"/>
<line x1="423.30" y1="195.5" x2="423.30" y2="198.50" stroke="#222" stroke-width="0.9"/>
<line x1="423.30" y1="272.4" x2="423.30" y2="269.40" stroke="#222" stroke-width="0.9"/>
<line x1="424.98" y1="195.5" x2="424.98" y2="198.50" stroke="#222" stroke-width="0.9"/>
<line x1="424.98" y1="272.4" x2="424.98" y2="269.40" stroke="#222" stroke-width="0.9"/>
<line x1="445.14" y1="195.5" x2="445.14" y2="198.50" stroke="#222" stroke-width="0.9"/>
<line x1="445.14" y1="272.4" x2="445.14" y2="269.40" stroke="#222" stroke-width="0.9"/>
<line x1="446.82" y1="195.5" x2="446.82" y2="198.50" stroke="#222" stroke-width="0.9"/>
<line x1="446.82" y1="272.4" x2="446.82" y2="269.40" stroke="#222" stroke-width="0.9"/>
<line x1="448.50" y1="195.5" x2="448.50" y2="198.50" stroke="#222" stroke-width="0.9"/>
<line x1="448.50" y1="272.4" x2="448.50" y2="269.40" stroke="#222" stroke-width="0.9"/>
<line x1="487.14" y1="195.5" x2="487.14" y2="198.50" stroke="#222" stroke-width="0.9"/>
<line x1="487.14" y1="272.4" x2="487.14" y2="269.40" stroke="#222" stroke-width="0.9"/>
<line x1="488.82" y1="195.5" x2="488.82" y2="198.50" stroke="#222" stroke-width="0.9"/>
<line x1="488.82" y1="272.4" x2="488.82" y2="269.40" stroke="#222" stroke-width="0.9"/>
<line x1="493.86" y1="195.5" x2="493.86" y2="198.50" stroke="#222" stroke-width="0.9"/>
<line x1="493.86" y1="272.4" x2="493.86" y2="269.40" stroke="#222" stroke-width="0.9"/>
<line x1="381.5" y1="195.6" x2="383.5" y2="195.6" stroke="#444" stroke-width="0.7"/>
<line x1="510.4" y1="195.6" x2="512.4" y2="195.6" stroke="#444" stroke-width="0.7"/>
<text transform="translate(377.30,199.10) scale(0.970,1)" font-size="10.30" text-anchor="end">20</text>
<line x1="381.5" y1="210.4" x2="383.5" y2="210.4" stroke="#444" stroke-width="0.7"/>
<line x1="510.4" y1="210.4" x2="512.4" y2="210.4" stroke="#444" stroke-width="0.7"/>
<text transform="translate(377.30,213.90) scale(0.970,1)" font-size="10.30" text-anchor="end">0</text>
<line x1="381.5" y1="230.7" x2="383.5" y2="230.7" stroke="#444" stroke-width="0.7"/>
<line x1="510.4" y1="230.7" x2="512.4" y2="230.7" stroke="#444" stroke-width="0.7"/>
<text transform="translate(377.30,234.20) scale(0.970,1)" font-size="10.30" text-anchor="end">20</text>
<line x1="381.5" y1="251.1" x2="383.5" y2="251.1" stroke="#444" stroke-width="0.7"/>
<line x1="510.4" y1="251.1" x2="512.4" y2="251.1" stroke="#444" stroke-width="0.7"/>
<text transform="translate(377.30,254.60) scale(0.970,1)" font-size="10.30" text-anchor="end">40</text>
<line x1="381.5" y1="271.2" x2="383.5" y2="271.2" stroke="#444" stroke-width="0.7"/>
<line x1="510.4" y1="271.2" x2="512.4" y2="271.2" stroke="#444" stroke-width="0.7"/>
<text transform="translate(377.30,274.70) scale(0.970,1)" font-size="10.30" text-anchor="end">60</text>
<rect x="447.85" y="195.50" width="1.3" height="15.00" fill="#90EE90"/>
<rect x="488.12" y="196.80" width="1.4" height="18.50" fill="#9AD5F0"/>
<line x1="381.5" y1="210.5" x2="512.4" y2="210.5" stroke="#3a3a3a" stroke-width="1.1"/>
<rect x="405.70" y="210.50" width="1.6" height="2.4" fill="#FFD000"/>
<rect x="407.38" y="209.00" width="1.6" height="1.5" fill="#111"/>
<rect x="410.74" y="210.50" width="1.6" height="3" fill="#FF7F27"/>
<rect x="422.50" y="210.50" width="1.6" height="1.2" fill="#111"/>
<rect x="444.34" y="210.50" width="1.6" height="1.6" fill="#E8008A"/>
<rect x="493.06" y="210.50" width="1.6" height="1.5" fill="#111"/>
<rect x="486.34" y="210.50" width="1.6" height="1.5" fill="#55AAFF"/>
<rect x="381.5" y="195.5" width="130.9" height="76.90" fill="none" stroke="#3a3a3a" stroke-width="1"/>
<polygon points="446.00,188.70 451.00,188.70 448.50,193.10" fill="#555"/>
<text transform="translate(387.00,265.80) scale(0.940,1)" font-size="10.50">Case 3</text>
<text transform="translate(359.80,234.00) rotate(-90) scale(0.950,1)" font-size="10.30" text-anchor="middle">Reads</text>
<polyline points="406.50,272.4 406.50,273.00 392.20,276.20" fill="none" stroke="#222" stroke-width="0.85"/>
<text transform="translate(395.00,277.90) rotate(-90) scale(0.960,1)" font-size="9.80" text-anchor="end">-149</text>
<polyline points="408.18,272.4 408.18,273.00 399.90,276.20" fill="none" stroke="#222" stroke-width="0.85"/>
<text transform="translate(402.70,277.90) rotate(-90) scale(0.960,1)" font-size="9.80" text-anchor="end">-148</text>
<polyline points="411.54,272.4 411.54,273.00 408.30,276.20" fill="none" stroke="#222" stroke-width="0.85"/>
<text transform="translate(411.10,277.90) rotate(-90) scale(0.960,1)" font-size="9.80" text-anchor="end">-146</text>
<polyline points="423.30,272.4 423.30,273.00 422.70,276.20" fill="none" stroke="#222" stroke-width="0.85"/>
<text transform="translate(425.50,277.90) rotate(-90) scale(0.960,1)" font-size="9.80" text-anchor="end">-139</text>
<polyline points="424.98,272.4 424.98,273.00 430.90,276.20" fill="none" stroke="#222" stroke-width="0.85"/>
<text transform="translate(433.70,277.90) rotate(-90) scale(0.960,1)" font-size="9.80" text-anchor="end">-138</text>
<polyline points="445.14,272.4 445.14,273.00 445.70,276.20" fill="none" stroke="#222" stroke-width="0.85"/>
<text transform="translate(448.50,277.90) rotate(-90) scale(0.960,1)" font-size="9.80" text-anchor="end">-126</text>
<polyline points="446.82,272.4 446.82,273.00 454.70,276.20" fill="none" stroke="#222" stroke-width="0.85"/>
<text transform="translate(457.50,277.90) rotate(-90) scale(0.960,1)" font-size="9.80" text-anchor="end">-125</text>
<polyline points="448.50,272.4 448.50,273.00 463.40,276.20" fill="none" stroke="#222" stroke-width="0.85"/>
<text transform="translate(466.20,277.90) rotate(-90) scale(0.960,1)" font-size="9.80" text-anchor="end">-124</text>
<polyline points="487.14,272.4 487.14,273.00 485.20,276.20" fill="none" stroke="#222" stroke-width="0.85"/>
<text transform="translate(488.00,277.90) rotate(-90) scale(0.960,1)" font-size="9.80" text-anchor="end">-101</text>
<polyline points="488.82,272.4 488.82,273.00 493.80,276.20" fill="none" stroke="#222" stroke-width="0.85"/>
<text transform="translate(496.60,277.90) rotate(-90) scale(0.960,1)" font-size="9.80" text-anchor="end">-100</text>
<polyline points="493.86,272.4 493.86,273.00 503.10,276.20" fill="none" stroke="#222" stroke-width="0.85"/>
<text transform="translate(505.90,277.90) rotate(-90) scale(0.960,1)" font-size="9.80" text-anchor="end">-97</text>
<rect x="553.6" y="195.5" width="130.9" height="15.80" fill="#F2FFF2"/>
<rect x="553.6" y="211.3" width="130.9" height="61.10" fill="#FFF2F0"/>
<line x1="578.60" y1="195.5" x2="578.60" y2="198.50" stroke="#222" stroke-width="0.9"/>
<line x1="578.60" y1="272.4" x2="578.60" y2="269.40" stroke="#222" stroke-width="0.9"/>
<line x1="580.28" y1="195.5" x2="580.28" y2="198.50" stroke="#222" stroke-width="0.9"/>
<line x1="580.28" y1="272.4" x2="580.28" y2="269.40" stroke="#222" stroke-width="0.9"/>
<line x1="583.64" y1="195.5" x2="583.64" y2="198.50" stroke="#222" stroke-width="0.9"/>
<line x1="583.64" y1="272.4" x2="583.64" y2="269.40" stroke="#222" stroke-width="0.9"/>
<line x1="595.40" y1="195.5" x2="595.40" y2="198.50" stroke="#222" stroke-width="0.9"/>
<line x1="595.40" y1="272.4" x2="595.40" y2="269.40" stroke="#222" stroke-width="0.9"/>
<line x1="597.08" y1="195.5" x2="597.08" y2="198.50" stroke="#222" stroke-width="0.9"/>
<line x1="597.08" y1="272.4" x2="597.08" y2="269.40" stroke="#222" stroke-width="0.9"/>
<line x1="617.24" y1="195.5" x2="617.24" y2="198.50" stroke="#222" stroke-width="0.9"/>
<line x1="617.24" y1="272.4" x2="617.24" y2="269.40" stroke="#222" stroke-width="0.9"/>
<line x1="618.92" y1="195.5" x2="618.92" y2="198.50" stroke="#222" stroke-width="0.9"/>
<line x1="618.92" y1="272.4" x2="618.92" y2="269.40" stroke="#222" stroke-width="0.9"/>
<line x1="620.60" y1="195.5" x2="620.60" y2="198.50" stroke="#222" stroke-width="0.9"/>
<line x1="620.60" y1="272.4" x2="620.60" y2="269.40" stroke="#222" stroke-width="0.9"/>
<line x1="659.24" y1="195.5" x2="659.24" y2="198.50" stroke="#222" stroke-width="0.9"/>
<line x1="659.24" y1="272.4" x2="659.24" y2="269.40" stroke="#222" stroke-width="0.9"/>
<line x1="660.92" y1="195.5" x2="660.92" y2="198.50" stroke="#222" stroke-width="0.9"/>
<line x1="660.92" y1="272.4" x2="660.92" y2="269.40" stroke="#222" stroke-width="0.9"/>
<line x1="665.96" y1="195.5" x2="665.96" y2="198.50" stroke="#222" stroke-width="0.9"/>
<line x1="665.96" y1="272.4" x2="665.96" y2="269.40" stroke="#222" stroke-width="0.9"/>
<line x1="553.6" y1="211.3" x2="555.6" y2="211.3" stroke="#444" stroke-width="0.7"/>
<line x1="682.5" y1="211.3" x2="684.5" y2="211.3" stroke="#444" stroke-width="0.7"/>
<text transform="translate(549.40,214.80) scale(0.970,1)" font-size="10.30" text-anchor="end">0</text>
<line x1="553.6" y1="227.3" x2="555.6" y2="227.3" stroke="#444" stroke-width="0.7"/>
<line x1="682.5" y1="227.3" x2="684.5" y2="227.3" stroke="#444" stroke-width="0.7"/>
<text transform="translate(549.40,230.80) scale(0.970,1)" font-size="10.30" text-anchor="end">20</text>
<line x1="553.6" y1="242.6" x2="555.6" y2="242.6" stroke="#444" stroke-width="0.7"/>
<line x1="682.5" y1="242.6" x2="684.5" y2="242.6" stroke="#444" stroke-width="0.7"/>
<text transform="translate(549.40,246.10) scale(0.970,1)" font-size="10.30" text-anchor="end">40</text>
<line x1="553.6" y1="258.4" x2="555.6" y2="258.4" stroke="#444" stroke-width="0.7"/>
<line x1="682.5" y1="258.4" x2="684.5" y2="258.4" stroke="#444" stroke-width="0.7"/>
<text transform="translate(549.40,261.90) scale(0.970,1)" font-size="10.30" text-anchor="end">60</text>
<rect x="619.95" y="195.50" width="1.3" height="15.80" fill="#90EE90"/>
<rect x="658.54" y="195.50" width="1.4" height="15.80" fill="#55AAFF"/>
<line x1="553.6" y1="211.3" x2="684.5" y2="211.3" stroke="#3a3a3a" stroke-width="1.1"/>
<rect x="553.6" y="195.5" width="130.9" height="76.90" fill="none" stroke="#3a3a3a" stroke-width="1"/>
<polygon points="618.10,188.70 623.10,188.70 620.60,193.10" fill="#555"/>
<text transform="translate(559.10,265.80) scale(0.940,1)" font-size="10.50">Case 4</text>
<text transform="translate(533.00,234.00) rotate(-90) scale(0.950,1)" font-size="10.30" text-anchor="middle">Reads</text>
<polyline points="578.60,272.4 578.60,273.00 564.30,276.20" fill="none" stroke="#222" stroke-width="0.85"/>
<text transform="translate(567.10,277.90) rotate(-90) scale(0.960,1)" font-size="9.80" text-anchor="end">-149</text>
<polyline points="580.28,272.4 580.28,273.00 572.00,276.20" fill="none" stroke="#222" stroke-width="0.85"/>
<text transform="translate(574.80,277.90) rotate(-90) scale(0.960,1)" font-size="9.80" text-anchor="end">-148</text>
<polyline points="583.64,272.4 583.64,273.00 580.40,276.20" fill="none" stroke="#222" stroke-width="0.85"/>
<text transform="translate(583.20,277.90) rotate(-90) scale(0.960,1)" font-size="9.80" text-anchor="end">-146</text>
<polyline points="595.40,272.4 595.40,273.00 594.80,276.20" fill="none" stroke="#222" stroke-width="0.85"/>
<text transform="translate(597.60,277.90) rotate(-90) scale(0.960,1)" font-size="9.80" text-anchor="end">-139</text>
<polyline points="597.08,272.4 597.08,273.00 603.00,276.20" fill="none" stroke="#222" stroke-width="0.85"/>
<text transform="translate(605.80,277.90) rotate(-90) scale(0.960,1)" font-size="9.80" text-anchor="end">-138</text>
<polyline points="617.24,272.4 617.24,273.00 617.80,276.20" fill="none" stroke="#222" stroke-width="0.85"/>
<text transform="translate(620.60,277.90) rotate(-90) scale(0.960,1)" font-size="9.80" text-anchor="end">-126</text>
<polyline points="618.92,272.4 618.92,273.00 626.80,276.20" fill="none" stroke="#222" stroke-width="0.85"/>
<text transform="translate(629.60,277.90) rotate(-90) scale(0.960,1)" font-size="9.80" text-anchor="end">-125</text>
<polyline points="620.60,272.4 620.60,273.00 635.50,276.20" fill="none" stroke="#222" stroke-width="0.85"/>
<text transform="translate(638.30,277.90) rotate(-90) scale(0.960,1)" font-size="9.80" text-anchor="end">-124</text>
<polyline points="659.24,272.4 659.24,273.00 657.30,276.20" fill="none" stroke="#222" stroke-width="0.85"/>
<text transform="translate(660.10,277.90) rotate(-90) scale(0.960,1)" font-size="9.80" text-anchor="end">-101</text>
<polyline points="660.92,272.4 660.92,273.00 665.90,276.20" fill="none" stroke="#222" stroke-width="0.85"/>
<text transform="translate(668.70,277.90) rotate(-90) scale(0.960,1)" font-size="9.80" text-anchor="end">-100</text>
<polyline points="665.96,272.4 665.96,273.00 675.20,276.20" fill="none" stroke="#222" stroke-width="0.85"/>
<text transform="translate(678.00,277.90) rotate(-90) scale(0.960,1)" font-size="9.80" text-anchor="end">-97</text>
<rect x="36.6" y="313.5" width="130.9" height="5.80" fill="#F2FFF2"/>
<rect x="36.6" y="319.3" width="130.9" height="71.10" fill="#FFF2F0"/>
<line x1="61.60" y1="313.5" x2="61.60" y2="316.50" stroke="#222" stroke-width="0.9"/>
<line x1="61.60" y1="390.4" x2="61.60" y2="387.40" stroke="#222" stroke-width="0.9"/>
<line x1="63.28" y1="313.5" x2="63.28" y2="316.50" stroke="#222" stroke-width="0.9"/>
<line x1="63.28" y1="390.4" x2="63.28" y2="387.40" stroke="#222" stroke-width="0.9"/>
<line x1="66.64" y1="313.5" x2="66.64" y2="316.50" stroke="#222" stroke-width="0.9"/>
<line x1="66.64" y1="390.4" x2="66.64" y2="387.40" stroke="#222" stroke-width="0.9"/>
<line x1="78.40" y1="313.5" x2="78.40" y2="316.50" stroke="#222" stroke-width="0.9"/>
<line x1="78.40" y1="390.4" x2="78.40" y2="387.40" stroke="#222" stroke-width="0.9"/>
<line x1="80.08" y1="313.5" x2="80.08" y2="316.50" stroke="#222" stroke-width="0.9"/>
<line x1="80.08" y1="390.4" x2="80.08" y2="387.40" stroke="#222" stroke-width="0.9"/>
<line x1="100.24" y1="313.5" x2="100.24" y2="316.50" stroke="#222" stroke-width="0.9"/>
<line x1="100.24" y1="390.4" x2="100.24" y2="387.40" stroke="#222" stroke-width="0.9"/>
<line x1="101.92" y1="313.5" x2="101.92" y2="316.50" stroke="#222" stroke-width="0.9"/>
<line x1="101.92" y1="390.4" x2="101.92" y2="387.40" stroke="#222" stroke-width="0.9"/>
<line x1="103.60" y1="313.5" x2="103.60" y2="316.50" stroke="#222" stroke-width="0.9"/>
<line x1="103.60" y1="390.4" x2="103.60" y2="387.40" stroke="#222" stroke-width="0.9"/>
<line x1="142.24" y1="313.5" x2="142.24" y2="316.50" stroke="#222" stroke-width="0.9"/>
<line x1="142.24" y1="390.4" x2="142.24" y2="387.40" stroke="#222" stroke-width="0.9"/>
<line x1="143.92" y1="313.5" x2="143.92" y2="316.50" stroke="#222" stroke-width="0.9"/>
<line x1="143.92" y1="390.4" x2="143.92" y2="387.40" stroke="#222" stroke-width="0.9"/>
<line x1="148.96" y1="313.5" x2="148.96" y2="316.50" stroke="#222" stroke-width="0.9"/>
<line x1="148.96" y1="390.4" x2="148.96" y2="387.40" stroke="#222" stroke-width="0.9"/>
<line x1="36.6" y1="319.3" x2="38.6" y2="319.3" stroke="#444" stroke-width="0.7"/>
<line x1="165.5" y1="319.3" x2="167.5" y2="319.3" stroke="#444" stroke-width="0.7"/>
<text transform="translate(32.40,322.80) scale(0.970,1)" font-size="10.30" text-anchor="end">0</text>
<line x1="36.6" y1="341.6" x2="38.6" y2="341.6" stroke="#444" stroke-width="0.7"/>
<line x1="165.5" y1="341.6" x2="167.5" y2="341.6" stroke="#444" stroke-width="0.7"/>
<text transform="translate(32.40,345.10) scale(0.970,1)" font-size="10.30" text-anchor="end">20</text>
<line x1="36.6" y1="364.4" x2="38.6" y2="364.4" stroke="#444" stroke-width="0.7"/>
<line x1="165.5" y1="364.4" x2="167.5" y2="364.4" stroke="#444" stroke-width="0.7"/>
<text transform="translate(32.40,367.90) scale(0.970,1)" font-size="10.30" text-anchor="end">40</text>
<line x1="36.6" y1="386.9" x2="38.6" y2="386.9" stroke="#444" stroke-width="0.7"/>
<line x1="165.5" y1="386.9" x2="167.5" y2="386.9" stroke="#444" stroke-width="0.7"/>
<text transform="translate(32.40,390.40) scale(0.970,1)" font-size="10.30" text-anchor="end">60</text>
<rect x="102.95" y="313.50" width="1.3" height="5.80" fill="#90EE90"/>
<rect x="141.44" y="313.50" width="1.6" height="7.40" fill="#55AAFF"/>
<line x1="36.6" y1="319.3" x2="167.5" y2="319.3" stroke="#3a3a3a" stroke-width="1.1"/>
<rect x="60.80" y="319.30" width="1.6" height="1.5" fill="#FFD000"/>
<rect x="62.48" y="319.30" width="1.6" height="1.5" fill="#111"/>
<rect x="77.60" y="319.30" width="1.6" height="1.5" fill="#111"/>
<rect x="99.44" y="319.30" width="1.6" height="2" fill="#E8008A"/>
<rect x="148.16" y="319.30" width="1.6" height="1.5" fill="#111"/>
<rect x="36.6" y="313.5" width="130.9" height="76.90" fill="none" stroke="#3a3a3a" stroke-width="1"/>
<polygon points="101.10,306.70 106.10,306.70 103.60,311.10" fill="#555"/>
<text transform="translate(42.10,383.80) scale(0.940,1)" font-size="10.50">Case 5</text>
<text transform="translate(15.90,351.00) rotate(-90) scale(0.950,1)" font-size="10.30" text-anchor="middle">Reads</text>
<polyline points="61.60,390.4 61.60,391.00 47.30,394.20" fill="none" stroke="#222" stroke-width="0.85"/>
<text transform="translate(50.10,395.90) rotate(-90) scale(0.960,1)" font-size="9.80" text-anchor="end">-149</text>
<polyline points="63.28,390.4 63.28,391.00 55.00,394.20" fill="none" stroke="#222" stroke-width="0.85"/>
<text transform="translate(57.80,395.90) rotate(-90) scale(0.960,1)" font-size="9.80" text-anchor="end">-148</text>
<polyline points="66.64,390.4 66.64,391.00 63.40,394.20" fill="none" stroke="#222" stroke-width="0.85"/>
<text transform="translate(66.20,395.90) rotate(-90) scale(0.960,1)" font-size="9.80" text-anchor="end">-146</text>
<polyline points="78.40,390.4 78.40,391.00 77.80,394.20" fill="none" stroke="#222" stroke-width="0.85"/>
<text transform="translate(80.60,395.90) rotate(-90) scale(0.960,1)" font-size="9.80" text-anchor="end">-139</text>
<polyline points="80.08,390.4 80.08,391.00 86.00,394.20" fill="none" stroke="#222" stroke-width="0.85"/>
<text transform="translate(88.80,395.90) rotate(-90) scale(0.960,1)" font-size="9.80" text-anchor="end">-138</text>
<polyline points="100.24,390.4 100.24,391.00 100.80,394.20" fill="none" stroke="#222" stroke-width="0.85"/>
<text transform="translate(103.60,395.90) rotate(-90) scale(0.960,1)" font-size="9.80" text-anchor="end">-126</text>
<polyline points="101.92,390.4 101.92,391.00 109.80,394.20" fill="none" stroke="#222" stroke-width="0.85"/>
<text transform="translate(112.60,395.90) rotate(-90) scale(0.960,1)" font-size="9.80" text-anchor="end">-125</text>
<polyline points="103.60,390.4 103.60,391.00 118.50,394.20" fill="none" stroke="#222" stroke-width="0.85"/>
<text transform="translate(121.30,395.90) rotate(-90) scale(0.960,1)" font-size="9.80" text-anchor="end">-124</text>
<polyline points="142.24,390.4 142.24,391.00 140.30,394.20" fill="none" stroke="#222" stroke-width="0.85"/>
<text transform="translate(143.10,395.90) rotate(-90) scale(0.960,1)" font-size="9.80" text-anchor="end">-101</text>
<polyline points="143.92,390.4 143.92,391.00 148.90,394.20" fill="none" stroke="#222" stroke-width="0.85"/>
<text transform="translate(151.70,395.90) rotate(-90) scale(0.960,1)" font-size="9.80" text-anchor="end">-100</text>
<polyline points="148.96,390.4 148.96,391.00 158.20,394.20" fill="none" stroke="#222" stroke-width="0.85"/>
<text transform="translate(161.00,395.90) rotate(-90) scale(0.960,1)" font-size="9.80" text-anchor="end">-97</text>
<rect x="208.5" y="313.5" width="130.9" height="58.00" fill="#F2FFF2"/>
<rect x="208.5" y="371.5" width="130.9" height="18.90" fill="#FFF2F0"/>
<line x1="233.50" y1="313.5" x2="233.50" y2="316.50" stroke="#222" stroke-width="0.9"/>
<line x1="233.50" y1="390.4" x2="233.50" y2="387.40" stroke="#222" stroke-width="0.9"/>
<line x1="235.18" y1="313.5" x2="235.18" y2="316.50" stroke="#222" stroke-width="0.9"/>
<line x1="235.18" y1="390.4" x2="235.18" y2="387.40" stroke="#222" stroke-width="0.9"/>
<line x1="238.54" y1="313.5" x2="238.54" y2="316.50" stroke="#222" stroke-width="0.9"/>
<line x1="238.54" y1="390.4" x2="238.54" y2="387.40" stroke="#222" stroke-width="0.9"/>
<line x1="250.30" y1="313.5" x2="250.30" y2="316.50" stroke="#222" stroke-width="0.9"/>
<line x1="250.30" y1="390.4" x2="250.30" y2="387.40" stroke="#222" stroke-width="0.9"/>
<line x1="251.98" y1="313.5" x2="251.98" y2="316.50" stroke="#222" stroke-width="0.9"/>
<line x1="251.98" y1="390.4" x2="251.98" y2="387.40" stroke="#222" stroke-width="0.9"/>
<line x1="272.14" y1="313.5" x2="272.14" y2="316.50" stroke="#222" stroke-width="0.9"/>
<line x1="272.14" y1="390.4" x2="272.14" y2="387.40" stroke="#222" stroke-width="0.9"/>
<line x1="273.82" y1="313.5" x2="273.82" y2="316.50" stroke="#222" stroke-width="0.9"/>
<line x1="273.82" y1="390.4" x2="273.82" y2="387.40" stroke="#222" stroke-width="0.9"/>
<line x1="275.50" y1="313.5" x2="275.50" y2="316.50" stroke="#222" stroke-width="0.9"/>
<line x1="275.50" y1="390.4" x2="275.50" y2="387.40" stroke="#222" stroke-width="0.9"/>
<line x1="314.14" y1="313.5" x2="314.14" y2="316.50" stroke="#222" stroke-width="0.9"/>
<line x1="314.14" y1="390.4" x2="314.14" y2="387.40" stroke="#222" stroke-width="0.9"/>
<line x1="315.82" y1="313.5" x2="315.82" y2="316.50" stroke="#222" stroke-width="0.9"/>
<line x1="315.82" y1="390.4" x2="315.82" y2="387.40" stroke="#222" stroke-width="0.9"/>
<line x1="320.86" y1="313.5" x2="320.86" y2="316.50" stroke="#222" stroke-width="0.9"/>
<line x1="320.86" y1="390.4" x2="320.86" y2="387.40" stroke="#222" stroke-width="0.9"/>
<line x1="208.5" y1="326.8" x2="210.5" y2="326.8" stroke="#444" stroke-width="0.7"/>
<line x1="337.4" y1="326.8" x2="339.4" y2="326.8" stroke="#444" stroke-width="0.7"/>
<text transform="translate(204.30,330.30) scale(0.970,1)" font-size="10.30" text-anchor="end">40</text>
<line x1="208.5" y1="349.3" x2="210.5" y2="349.3" stroke="#444" stroke-width="0.7"/>
<line x1="337.4" y1="349.3" x2="339.4" y2="349.3" stroke="#444" stroke-width="0.7"/>
<text transform="translate(204.30,352.80) scale(0.970,1)" font-size="10.30" text-anchor="end">20</text>
<line x1="208.5" y1="371.5" x2="210.5" y2="371.5" stroke="#444" stroke-width="0.7"/>
<line x1="337.4" y1="371.5" x2="339.4" y2="371.5" stroke="#444" stroke-width="0.7"/>
<text transform="translate(204.30,375.00) scale(0.970,1)" font-size="10.30" text-anchor="end">0</text>
<rect x="274.80" y="313.50" width="1.4" height="58.00" fill="#90EE90"/>
<rect x="313.44" y="321.20" width="1.4" height="52.30" fill="#55AAFF"/>
<line x1="208.5" y1="371.5" x2="339.4" y2="371.5" stroke="#3a3a3a" stroke-width="1.1"/>
<rect x="271.34" y="370.00" width="1.6" height="1.5" fill="#E8008A"/>
<rect x="320.06" y="371.50" width="1.6" height="1.6" fill="#111"/>
<rect x="208.5" y="313.5" width="130.9" height="76.90" fill="none" stroke="#3a3a3a" stroke-width="1"/>
<polygon points="273.00,306.70 278.00,306.70 275.50,311.10" fill="#555"/>
<text transform="translate(214.00,383.80) scale(0.940,1)" font-size="10.50">Case 6</text>
<text transform="translate(187.60,351.00) rotate(-90) scale(0.950,1)" font-size="10.30" text-anchor="middle">Reads</text>
<polyline points="233.50,390.4 233.50,391.00 219.20,394.20" fill="none" stroke="#222" stroke-width="0.85"/>
<text transform="translate(222.00,395.90) rotate(-90) scale(0.960,1)" font-size="9.80" text-anchor="end">-149</text>
<polyline points="235.18,390.4 235.18,391.00 226.90,394.20" fill="none" stroke="#222" stroke-width="0.85"/>
<text transform="translate(229.70,395.90) rotate(-90) scale(0.960,1)" font-size="9.80" text-anchor="end">-148</text>
<polyline points="238.54,390.4 238.54,391.00 235.30,394.20" fill="none" stroke="#222" stroke-width="0.85"/>
<text transform="translate(238.10,395.90) rotate(-90) scale(0.960,1)" font-size="9.80" text-anchor="end">-146</text>
<polyline points="250.30,390.4 250.30,391.00 249.70,394.20" fill="none" stroke="#222" stroke-width="0.85"/>
<text transform="translate(252.50,395.90) rotate(-90) scale(0.960,1)" font-size="9.80" text-anchor="end">-139</text>
<polyline points="251.98,390.4 251.98,391.00 257.90,394.20" fill="none" stroke="#222" stroke-width="0.85"/>
<text transform="translate(260.70,395.90) rotate(-90) scale(0.960,1)" font-size="9.80" text-anchor="end">-138</text>
<polyline points="272.14,390.4 272.14,391.00 272.70,394.20" fill="none" stroke="#222" stroke-width="0.85"/>
<text transform="translate(275.50,395.90) rotate(-90) scale(0.960,1)" font-size="9.80" text-anchor="end">-126</text>
<polyline points="273.82,390.4 273.82,391.00 281.70,394.20" fill="none" stroke="#222" stroke-width="0.85"/>
<text transform="translate(284.50,395.90) rotate(-90) scale(0.960,1)" font-size="9.80" text-anchor="end">-125</text>
<polyline points="275.50,390.4 275.50,391.00 290.40,394.20" fill="none" stroke="#222" stroke-width="0.85"/>
<text transform="translate(293.20,395.90) rotate(-90) scale(0.960,1)" font-size="9.80" text-anchor="end">-124</text>
<polyline points="314.14,390.4 314.14,391.00 312.20,394.20" fill="none" stroke="#222" stroke-width="0.85"/>
<text transform="translate(315.00,395.90) rotate(-90) scale(0.960,1)" font-size="9.80" text-anchor="end">-101</text>
<polyline points="315.82,390.4 315.82,391.00 320.80,394.20" fill="none" stroke="#222" stroke-width="0.85"/>
<text transform="translate(323.60,395.90) rotate(-90) scale(0.960,1)" font-size="9.80" text-anchor="end">-100</text>
<polyline points="320.86,390.4 320.86,391.00 330.10,394.20" fill="none" stroke="#222" stroke-width="0.85"/>
<text transform="translate(332.90,395.90) rotate(-90) scale(0.960,1)" font-size="9.80" text-anchor="end">-97</text>
<rect x="381.5" y="313.5" width="130.9" height="29.80" fill="#F2FFF2"/>
<rect x="381.5" y="343.3" width="130.9" height="47.10" fill="#FFF2F0"/>
<line x1="406.50" y1="313.5" x2="406.50" y2="316.50" stroke="#222" stroke-width="0.9"/>
<line x1="406.50" y1="390.4" x2="406.50" y2="387.40" stroke="#222" stroke-width="0.9"/>
<line x1="408.18" y1="313.5" x2="408.18" y2="316.50" stroke="#222" stroke-width="0.9"/>
<line x1="408.18" y1="390.4" x2="408.18" y2="387.40" stroke="#222" stroke-width="0.9"/>
<line x1="411.54" y1="313.5" x2="411.54" y2="316.50" stroke="#222" stroke-width="0.9"/>
<line x1="411.54" y1="390.4" x2="411.54" y2="387.40" stroke="#222" stroke-width="0.9"/>
<line x1="423.30" y1="313.5" x2="423.30" y2="316.50" stroke="#222" stroke-width="0.9"/>
<line x1="423.30" y1="390.4" x2="423.30" y2="387.40" stroke="#222" stroke-width="0.9"/>
<line x1="424.98" y1="313.5" x2="424.98" y2="316.50" stroke="#222" stroke-width="0.9"/>
<line x1="424.98" y1="390.4" x2="424.98" y2="387.40" stroke="#222" stroke-width="0.9"/>
<line x1="445.14" y1="313.5" x2="445.14" y2="316.50" stroke="#222" stroke-width="0.9"/>
<line x1="445.14" y1="390.4" x2="445.14" y2="387.40" stroke="#222" stroke-width="0.9"/>
<line x1="446.82" y1="313.5" x2="446.82" y2="316.50" stroke="#222" stroke-width="0.9"/>
<line x1="446.82" y1="390.4" x2="446.82" y2="387.40" stroke="#222" stroke-width="0.9"/>
<line x1="448.50" y1="313.5" x2="448.50" y2="316.50" stroke="#222" stroke-width="0.9"/>
<line x1="448.50" y1="390.4" x2="448.50" y2="387.40" stroke="#222" stroke-width="0.9"/>
<line x1="487.14" y1="313.5" x2="487.14" y2="316.50" stroke="#222" stroke-width="0.9"/>
<line x1="487.14" y1="390.4" x2="487.14" y2="387.40" stroke="#222" stroke-width="0.9"/>
<line x1="488.82" y1="313.5" x2="488.82" y2="316.50" stroke="#222" stroke-width="0.9"/>
<line x1="488.82" y1="390.4" x2="488.82" y2="387.40" stroke="#222" stroke-width="0.9"/>
<line x1="493.86" y1="313.5" x2="493.86" y2="316.50" stroke="#222" stroke-width="0.9"/>
<line x1="493.86" y1="390.4" x2="493.86" y2="387.40" stroke="#222" stroke-width="0.9"/>
<line x1="381.5" y1="320.4" x2="383.5" y2="320.4" stroke="#444" stroke-width="0.7"/>
<line x1="510.4" y1="320.4" x2="512.4" y2="320.4" stroke="#444" stroke-width="0.7"/>
<text transform="translate(377.30,323.90) scale(0.970,1)" font-size="10.30" text-anchor="end">20</text>
<line x1="381.5" y1="343.3" x2="383.5" y2="343.3" stroke="#444" stroke-width="0.7"/>
<line x1="510.4" y1="343.3" x2="512.4" y2="343.3" stroke="#444" stroke-width="0.7"/>
<text transform="translate(377.30,346.80) scale(0.970,1)" font-size="10.30" text-anchor="end">0</text>
<line x1="381.5" y1="366.4" x2="383.5" y2="366.4" stroke="#444" stroke-width="0.7"/>
<line x1="510.4" y1="366.4" x2="512.4" y2="366.4" stroke="#444" stroke-width="0.7"/>
<text transform="translate(377.30,369.90) scale(0.970,1)" font-size="10.30" text-anchor="end">20</text>
<line x1="381.5" y1="389.5" x2="383.5" y2="389.5" stroke="#444" stroke-width="0.7"/>
<line x1="510.4" y1="389.5" x2="512.4" y2="389.5" stroke="#444" stroke-width="0.7"/>
<text transform="translate(377.30,393.00) scale(0.970,1)" font-size="10.30" text-anchor="end">40</text>
<rect x="422.45" y="313.50" width="1.7" height="29.80" fill="#A855F0"/>
<rect x="424.13" y="313.50" width="1.7" height="29.80" fill="#A855F0"/>
<rect x="486.39" y="320.40" width="1.5" height="22.90" fill="#8CC8F8"/>
<line x1="381.5" y1="343.3" x2="512.4" y2="343.3" stroke="#3a3a3a" stroke-width="1.1"/>
<rect x="444.34" y="343.30" width="1.6" height="1.5" fill="#E8008A"/>
<rect x="493.06" y="342.10" width="1.6" height="1.2" fill="#111"/>
<rect x="381.5" y="313.5" width="130.9" height="76.90" fill="none" stroke="#3a3a3a" stroke-width="1"/>
<polygon points="421.64,306.70 426.64,306.70 424.14,311.10" fill="#555"/>
<text transform="translate(387.00,383.80) scale(0.940,1)" font-size="10.50">Case 7</text>
<text transform="translate(359.80,351.00) rotate(-90) scale(0.950,1)" font-size="10.30" text-anchor="middle">Reads</text>
<polyline points="406.50,390.4 406.50,391.00 392.20,394.20" fill="none" stroke="#222" stroke-width="0.85"/>
<text transform="translate(395.00,395.90) rotate(-90) scale(0.960,1)" font-size="9.80" text-anchor="end">-149</text>
<polyline points="408.18,390.4 408.18,391.00 399.90,394.20" fill="none" stroke="#222" stroke-width="0.85"/>
<text transform="translate(402.70,395.90) rotate(-90) scale(0.960,1)" font-size="9.80" text-anchor="end">-148</text>
<polyline points="411.54,390.4 411.54,391.00 408.30,394.20" fill="none" stroke="#222" stroke-width="0.85"/>
<text transform="translate(411.10,395.90) rotate(-90) scale(0.960,1)" font-size="9.80" text-anchor="end">-146</text>
<polyline points="423.30,390.4 423.30,391.00 422.70,394.20" fill="none" stroke="#222" stroke-width="0.85"/>
<text transform="translate(425.50,395.90) rotate(-90) scale(0.960,1)" font-size="9.80" text-anchor="end">-139</text>
<polyline points="424.98,390.4 424.98,391.00 430.90,394.20" fill="none" stroke="#222" stroke-width="0.85"/>
<text transform="translate(433.70,395.90) rotate(-90) scale(0.960,1)" font-size="9.80" text-anchor="end">-138</text>
<polyline points="445.14,390.4 445.14,391.00 445.70,394.20" fill="none" stroke="#222" stroke-width="0.85"/>
<text transform="translate(448.50,395.90) rotate(-90) scale(0.960,1)" font-size="9.80" text-anchor="end">-126</text>
<polyline points="446.82,390.4 446.82,391.00 454.70,394.20" fill="none" stroke="#222" stroke-width="0.85"/>
<text transform="translate(457.50,395.90) rotate(-90) scale(0.960,1)" font-size="9.80" text-anchor="end">-125</text>
<polyline points="448.50,390.4 448.50,391.00 463.40,394.20" fill="none" stroke="#222" stroke-width="0.85"/>
<text transform="translate(466.20,395.90) rotate(-90) scale(0.960,1)" font-size="9.80" text-anchor="end">-124</text>
<polyline points="487.14,390.4 487.14,391.00 485.20,394.20" fill="none" stroke="#222" stroke-width="0.85"/>
<text transform="translate(488.00,395.90) rotate(-90) scale(0.960,1)" font-size="9.80" text-anchor="end">-101</text>
<polyline points="488.82,390.4 488.82,391.00 493.80,394.20" fill="none" stroke="#222" stroke-width="0.85"/>
<text transform="translate(496.60,395.90) rotate(-90) scale(0.960,1)" font-size="9.80" text-anchor="end">-100</text>
<polyline points="493.86,390.4 493.86,391.00 503.10,394.20" fill="none" stroke="#222" stroke-width="0.85"/>
<text transform="translate(505.90,395.90) rotate(-90) scale(0.960,1)" font-size="9.80" text-anchor="end">-97</text>
<rect x="553.6" y="313.5" width="130.9" height="19.00" fill="#F2FFF2"/>
<rect x="553.6" y="332.5" width="130.9" height="57.90" fill="#FFF2F0"/>
<line x1="578.60" y1="313.5" x2="578.60" y2="316.50" stroke="#222" stroke-width="0.9"/>
<line x1="578.60" y1="390.4" x2="578.60" y2="387.40" stroke="#222" stroke-width="0.9"/>
<line x1="580.28" y1="313.5" x2="580.28" y2="316.50" stroke="#222" stroke-width="0.9"/>
<line x1="580.28" y1="390.4" x2="580.28" y2="387.40" stroke="#222" stroke-width="0.9"/>
<line x1="583.64" y1="313.5" x2="583.64" y2="316.50" stroke="#222" stroke-width="0.9"/>
<line x1="583.64" y1="390.4" x2="583.64" y2="387.40" stroke="#222" stroke-width="0.9"/>
<line x1="595.40" y1="313.5" x2="595.40" y2="316.50" stroke="#222" stroke-width="0.9"/>
<line x1="595.40" y1="390.4" x2="595.40" y2="387.40" stroke="#222" stroke-width="0.9"/>
<line x1="597.08" y1="313.5" x2="597.08" y2="316.50" stroke="#222" stroke-width="0.9"/>
<line x1="597.08" y1="390.4" x2="597.08" y2="387.40" stroke="#222" stroke-width="0.9"/>
<line x1="617.24" y1="313.5" x2="617.24" y2="316.50" stroke="#222" stroke-width="0.9"/>
<line x1="617.24" y1="390.4" x2="617.24" y2="387.40" stroke="#222" stroke-width="0.9"/>
<line x1="618.92" y1="313.5" x2="618.92" y2="316.50" stroke="#222" stroke-width="0.9"/>
<line x1="618.92" y1="390.4" x2="618.92" y2="387.40" stroke="#222" stroke-width="0.9"/>
<line x1="620.60" y1="313.5" x2="620.60" y2="316.50" stroke="#222" stroke-width="0.9"/>
<line x1="620.60" y1="390.4" x2="620.60" y2="387.40" stroke="#222" stroke-width="0.9"/>
<line x1="659.24" y1="313.5" x2="659.24" y2="316.50" stroke="#222" stroke-width="0.9"/>
<line x1="659.24" y1="390.4" x2="659.24" y2="387.40" stroke="#222" stroke-width="0.9"/>
<line x1="660.92" y1="313.5" x2="660.92" y2="316.50" stroke="#222" stroke-width="0.9"/>
<line x1="660.92" y1="390.4" x2="660.92" y2="387.40" stroke="#222" stroke-width="0.9"/>
<line x1="665.96" y1="313.5" x2="665.96" y2="316.50" stroke="#222" stroke-width="0.9"/>
<line x1="665.96" y1="390.4" x2="665.96" y2="387.40" stroke="#222" stroke-width="0.9"/>
<line x1="553.6" y1="332.5" x2="555.6" y2="332.5" stroke="#444" stroke-width="0.7"/>
<line x1="682.5" y1="332.5" x2="684.5" y2="332.5" stroke="#444" stroke-width="0.7"/>
<text transform="translate(549.40,336.00) scale(0.970,1)" font-size="10.30" text-anchor="end">0</text>
<line x1="553.6" y1="357.0" x2="555.6" y2="357.0" stroke="#444" stroke-width="0.7"/>
<line x1="682.5" y1="357.0" x2="684.5" y2="357.0" stroke="#444" stroke-width="0.7"/>
<text transform="translate(549.40,360.50) scale(0.970,1)" font-size="10.30" text-anchor="end">10</text>
<line x1="553.6" y1="380.8" x2="555.6" y2="380.8" stroke="#444" stroke-width="0.7"/>
<line x1="682.5" y1="380.8" x2="684.5" y2="380.8" stroke="#444" stroke-width="0.7"/>
<text transform="translate(549.40,384.30) scale(0.970,1)" font-size="10.30" text-anchor="end">20</text>
<rect x="594.65" y="313.50" width="1.5" height="19.00" fill="#A855F0"/>
<rect x="596.48" y="313.50" width="1.2" height="19.00" fill="#A855F0"/>
<rect x="658.59" y="321.00" width="1.3" height="11.50" fill="#8CC8F8"/>
<line x1="553.6" y1="332.5" x2="684.5" y2="332.5" stroke="#3a3a3a" stroke-width="1.1"/>
<rect x="665.16" y="332.50" width="1.6" height="1.6" fill="#111"/>
<rect x="553.6" y="313.5" width="130.9" height="76.90" fill="none" stroke="#3a3a3a" stroke-width="1"/>
<polygon points="593.74,306.70 598.74,306.70 596.24,311.10" fill="#555"/>
<text transform="translate(559.10,383.80) scale(0.940,1)" font-size="10.50">Case 8</text>
<text transform="translate(533.00,351.00) rotate(-90) scale(0.950,1)" font-size="10.30" text-anchor="middle">Reads</text>
<polyline points="578.60,390.4 578.60,391.00 564.30,394.20" fill="none" stroke="#222" stroke-width="0.85"/>
<text transform="translate(567.10,395.90) rotate(-90) scale(0.960,1)" font-size="9.80" text-anchor="end">-149</text>
<polyline points="580.28,390.4 580.28,391.00 572.00,394.20" fill="none" stroke="#222" stroke-width="0.85"/>
<text transform="translate(574.80,395.90) rotate(-90) scale(0.960,1)" font-size="9.80" text-anchor="end">-148</text>
<polyline points="583.64,390.4 583.64,391.00 580.40,394.20" fill="none" stroke="#222" stroke-width="0.85"/>
<text transform="translate(583.20,395.90) rotate(-90) scale(0.960,1)" font-size="9.80" text-anchor="end">-146</text>
<polyline points="595.40,390.4 595.40,391.00 594.80,394.20" fill="none" stroke="#222" stroke-width="0.85"/>
<text transform="translate(597.60,395.90) rotate(-90) scale(0.960,1)" font-size="9.80" text-anchor="end">-139</text>
<polyline points="597.08,390.4 597.08,391.00 603.00,394.20" fill="none" stroke="#222" stroke-width="0.85"/>
<text transform="translate(605.80,395.90) rotate(-90) scale(0.960,1)" font-size="9.80" text-anchor="end">-138</text>
<polyline points="617.24,390.4 617.24,391.00 617.80,394.20" fill="none" stroke="#222" stroke-width="0.85"/>
<text transform="translate(620.60,395.90) rotate(-90) scale(0.960,1)" font-size="9.80" text-anchor="end">-126</text>
<polyline points="618.92,390.4 618.92,391.00 626.80,394.20" fill="none" stroke="#222" stroke-width="0.85"/>
<text transform="translate(629.60,395.90) rotate(-90) scale(0.960,1)" font-size="9.80" text-anchor="end">-125</text>
<polyline points="620.60,390.4 620.60,391.00 635.50,394.20" fill="none" stroke="#222" stroke-width="0.85"/>
<text transform="translate(638.30,395.90) rotate(-90) scale(0.960,1)" font-size="9.80" text-anchor="end">-124</text>
<polyline points="659.24,390.4 659.24,391.00 657.30,394.20" fill="none" stroke="#222" stroke-width="0.85"/>
<text transform="translate(660.10,395.90) rotate(-90) scale(0.960,1)" font-size="9.80" text-anchor="end">-101</text>
<polyline points="660.92,390.4 660.92,391.00 665.90,394.20" fill="none" stroke="#222" stroke-width="0.85"/>
<text transform="translate(668.70,395.90) rotate(-90) scale(0.960,1)" font-size="9.80" text-anchor="end">-100</text>
<polyline points="665.96,390.4 665.96,391.00 675.20,394.20" fill="none" stroke="#222" stroke-width="0.85"/>
<text transform="translate(678.00,395.90) rotate(-90) scale(0.960,1)" font-size="9.80" text-anchor="end">-97</text>
<rect x="36.6" y="430.5" width="130.9" height="39.80" fill="#F2FFF2"/>
<rect x="36.6" y="470.3" width="130.9" height="38.00" fill="#FFF2F0"/>
<line x1="61.60" y1="430.5" x2="61.60" y2="433.50" stroke="#222" stroke-width="0.9"/>
<line x1="61.60" y1="508.3" x2="61.60" y2="505.30" stroke="#222" stroke-width="0.9"/>
<line x1="63.28" y1="430.5" x2="63.28" y2="433.50" stroke="#222" stroke-width="0.9"/>
<line x1="63.28" y1="508.3" x2="63.28" y2="505.30" stroke="#222" stroke-width="0.9"/>
<line x1="66.64" y1="430.5" x2="66.64" y2="433.50" stroke="#222" stroke-width="0.9"/>
<line x1="66.64" y1="508.3" x2="66.64" y2="505.30" stroke="#222" stroke-width="0.9"/>
<line x1="78.40" y1="430.5" x2="78.40" y2="433.50" stroke="#222" stroke-width="0.9"/>
<line x1="78.40" y1="508.3" x2="78.40" y2="505.30" stroke="#222" stroke-width="0.9"/>
<line x1="80.08" y1="430.5" x2="80.08" y2="433.50" stroke="#222" stroke-width="0.9"/>
<line x1="80.08" y1="508.3" x2="80.08" y2="505.30" stroke="#222" stroke-width="0.9"/>
<line x1="100.24" y1="430.5" x2="100.24" y2="433.50" stroke="#222" stroke-width="0.9"/>
<line x1="100.24" y1="508.3" x2="100.24" y2="505.30" stroke="#222" stroke-width="0.9"/>
<line x1="101.92" y1="430.5" x2="101.92" y2="433.50" stroke="#222" stroke-width="0.9"/>
<line x1="101.92" y1="508.3" x2="101.92" y2="505.30" stroke="#222" stroke-width="0.9"/>
<line x1="103.60" y1="430.5" x2="103.60" y2="433.50" stroke="#222" stroke-width="0.9"/>
<line x1="103.60" y1="508.3" x2="103.60" y2="505.30" stroke="#222" stroke-width="0.9"/>
<line x1="142.24" y1="430.5" x2="142.24" y2="433.50" stroke="#222" stroke-width="0.9"/>
<line x1="142.24" y1="508.3" x2="142.24" y2="505.30" stroke="#222" stroke-width="0.9"/>
<line x1="143.92" y1="430.5" x2="143.92" y2="433.50" stroke="#222" stroke-width="0.9"/>
<line x1="143.92" y1="508.3" x2="143.92" y2="505.30" stroke="#222" stroke-width="0.9"/>
<line x1="148.96" y1="430.5" x2="148.96" y2="433.50" stroke="#222" stroke-width="0.9"/>
<line x1="148.96" y1="508.3" x2="148.96" y2="505.30" stroke="#222" stroke-width="0.9"/>
<line x1="36.6" y1="447.8" x2="38.6" y2="447.8" stroke="#444" stroke-width="0.7"/>
<line x1="165.5" y1="447.8" x2="167.5" y2="447.8" stroke="#444" stroke-width="0.7"/>
<text transform="translate(32.40,451.30) scale(0.970,1)" font-size="10.30" text-anchor="end">20</text>
<line x1="36.6" y1="470.3" x2="38.6" y2="470.3" stroke="#444" stroke-width="0.7"/>
<line x1="165.5" y1="470.3" x2="167.5" y2="470.3" stroke="#444" stroke-width="0.7"/>
<text transform="translate(32.40,473.80) scale(0.970,1)" font-size="10.30" text-anchor="end">0</text>
<line x1="36.6" y1="493.2" x2="38.6" y2="493.2" stroke="#444" stroke-width="0.7"/>
<line x1="165.5" y1="493.2" x2="167.5" y2="493.2" stroke="#444" stroke-width="0.7"/>
<text transform="translate(32.40,496.70) scale(0.970,1)" font-size="10.30" text-anchor="end">20</text>
<rect x="60.90" y="430.50" width="1.4" height="39.80" fill="#FFD000"/>
<rect x="65.94" y="430.50" width="1.4" height="39.80" fill="#FF7F27"/>
<line x1="36.6" y1="470.3" x2="167.5" y2="470.3" stroke="#3a3a3a" stroke-width="1.1"/>
<rect x="77.60" y="468.50" width="1.6" height="3.6" fill="#111"/>
<rect x="102.80" y="470.30" width="1.6" height="1" fill="#90EE90"/>
<rect x="148.16" y="468.50" width="1.6" height="3.6" fill="#111"/>
<rect x="36.6" y="430.5" width="130.9" height="77.80" fill="none" stroke="#3a3a3a" stroke-width="1"/>
<polygon points="64.14,423.70 69.14,423.70 66.64,428.10" fill="#555"/>
<text transform="translate(42.10,501.70) scale(0.940,1)" font-size="10.50">Case 9</text>
<text transform="translate(15.90,467.40) rotate(-90) scale(0.950,1)" font-size="10.30" text-anchor="middle">Reads</text>
<polyline points="61.60,508.3 61.60,508.90 47.30,512.10" fill="none" stroke="#222" stroke-width="0.85"/>
<text transform="translate(50.10,513.80) rotate(-90) scale(0.960,1)" font-size="9.80" text-anchor="end">-149</text>
<polyline points="63.28,508.3 63.28,508.90 55.00,512.10" fill="none" stroke="#222" stroke-width="0.85"/>
<text transform="translate(57.80,513.80) rotate(-90) scale(0.960,1)" font-size="9.80" text-anchor="end">-148</text>
<polyline points="66.64,508.3 66.64,508.90 63.40,512.10" fill="none" stroke="#222" stroke-width="0.85"/>
<text transform="translate(66.20,513.80) rotate(-90) scale(0.960,1)" font-size="9.80" text-anchor="end">-146</text>
<polyline points="78.40,508.3 78.40,508.90 77.80,512.10" fill="none" stroke="#222" stroke-width="0.85"/>
<text transform="translate(80.60,513.80) rotate(-90) scale(0.960,1)" font-size="9.80" text-anchor="end">-139</text>
<polyline points="80.08,508.3 80.08,508.90 86.00,512.10" fill="none" stroke="#222" stroke-width="0.85"/>
<text transform="translate(88.80,513.80) rotate(-90) scale(0.960,1)" font-size="9.80" text-anchor="end">-138</text>
<polyline points="100.24,508.3 100.24,508.90 100.80,512.10" fill="none" stroke="#222" stroke-width="0.85"/>
<text transform="translate(103.60,513.80) rotate(-90) scale(0.960,1)" font-size="9.80" text-anchor="end">-126</text>
<polyline points="101.92,508.3 101.92,508.90 109.80,512.10" fill="none" stroke="#222" stroke-width="0.85"/>
<text transform="translate(112.60,513.80) rotate(-90) scale(0.960,1)" font-size="9.80" text-anchor="end">-125</text>
<polyline points="103.60,508.3 103.60,508.90 118.50,512.10" fill="none" stroke="#222" stroke-width="0.85"/>
<text transform="translate(121.30,513.80) rotate(-90) scale(0.960,1)" font-size="9.80" text-anchor="end">-124</text>
<polyline points="142.24,508.3 142.24,508.90 140.30,512.10" fill="none" stroke="#222" stroke-width="0.85"/>
<text transform="translate(143.10,513.80) rotate(-90) scale(0.960,1)" font-size="9.80" text-anchor="end">-101</text>
<polyline points="143.92,508.3 143.92,508.90 148.90,512.10" fill="none" stroke="#222" stroke-width="0.85"/>
<text transform="translate(151.70,513.80) rotate(-90) scale(0.960,1)" font-size="9.80" text-anchor="end">-100</text>
<polyline points="148.96,508.3 148.96,508.90 158.20,512.10" fill="none" stroke="#222" stroke-width="0.85"/>
<text transform="translate(161.00,513.80) rotate(-90) scale(0.960,1)" font-size="9.80" text-anchor="end">-97</text>
<rect x="208.5" y="430.5" width="130.9" height="42.80" fill="#F2FFF2"/>
<rect x="208.5" y="473.3" width="130.9" height="35.00" fill="#FFF2F0"/>
<line x1="233.50" y1="430.5" x2="233.50" y2="433.50" stroke="#222" stroke-width="0.9"/>
<line x1="233.50" y1="508.3" x2="233.50" y2="505.30" stroke="#222" stroke-width="0.9"/>
<line x1="235.18" y1="430.5" x2="235.18" y2="433.50" stroke="#222" stroke-width="0.9"/>
<line x1="235.18" y1="508.3" x2="235.18" y2="505.30" stroke="#222" stroke-width="0.9"/>
<line x1="238.54" y1="430.5" x2="238.54" y2="433.50" stroke="#222" stroke-width="0.9"/>
<line x1="238.54" y1="508.3" x2="238.54" y2="505.30" stroke="#222" stroke-width="0.9"/>
<line x1="250.30" y1="430.5" x2="250.30" y2="433.50" stroke="#222" stroke-width="0.9"/>
<line x1="250.30" y1="508.3" x2="250.30" y2="505.30" stroke="#222" stroke-width="0.9"/>
<line x1="251.98" y1="430.5" x2="251.98" y2="433.50" stroke="#222" stroke-width="0.9"/>
<line x1="251.98" y1="508.3" x2="251.98" y2="505.30" stroke="#222" stroke-width="0.9"/>
<line x1="272.14" y1="430.5" x2="272.14" y2="433.50" stroke="#222" stroke-width="0.9"/>
<line x1="272.14" y1="508.3" x2="272.14" y2="505.30" stroke="#222" stroke-width="0.9"/>
<line x1="273.82" y1="430.5" x2="273.82" y2="433.50" stroke="#222" stroke-width="0.9"/>
<line x1="273.82" y1="508.3" x2="273.82" y2="505.30" stroke="#222" stroke-width="0.9"/>
<line x1="275.50" y1="430.5" x2="275.50" y2="433.50" stroke="#222" stroke-width="0.9"/>
<line x1="275.50" y1="508.3" x2="275.50" y2="505.30" stroke="#222" stroke-width="0.9"/>
<line x1="314.14" y1="430.5" x2="314.14" y2="433.50" stroke="#222" stroke-width="0.9"/>
<line x1="314.14" y1="508.3" x2="314.14" y2="505.30" stroke="#222" stroke-width="0.9"/>
<line x1="315.82" y1="430.5" x2="315.82" y2="433.50" stroke="#222" stroke-width="0.9"/>
<line x1="315.82" y1="508.3" x2="315.82" y2="505.30" stroke="#222" stroke-width="0.9"/>
<line x1="320.86" y1="430.5" x2="320.86" y2="433.50" stroke="#222" stroke-width="0.9"/>
<line x1="320.86" y1="508.3" x2="320.86" y2="505.30" stroke="#222" stroke-width="0.9"/>
<line x1="208.5" y1="437.5" x2="210.5" y2="437.5" stroke="#444" stroke-width="0.7"/>
<line x1="337.4" y1="437.5" x2="339.4" y2="437.5" stroke="#444" stroke-width="0.7"/>
<text transform="translate(204.30,441.00) scale(0.970,1)" font-size="10.30" text-anchor="end">40</text>
<line x1="208.5" y1="455.4" x2="210.5" y2="455.4" stroke="#444" stroke-width="0.7"/>
<line x1="337.4" y1="455.4" x2="339.4" y2="455.4" stroke="#444" stroke-width="0.7"/>
<text transform="translate(204.30,458.90) scale(0.970,1)" font-size="10.30" text-anchor="end">20</text>
<line x1="208.5" y1="490.9" x2="210.5" y2="490.9" stroke="#444" stroke-width="0.7"/>
<line x1="337.4" y1="490.9" x2="339.4" y2="490.9" stroke="#444" stroke-width="0.7"/>
<text transform="translate(204.30,494.40) scale(0.970,1)" font-size="10.30" text-anchor="end">20</text>
<line x1="208.5" y1="508.3" x2="210.5" y2="508.3" stroke="#444" stroke-width="0.7"/>
<line x1="337.4" y1="508.3" x2="339.4" y2="508.3" stroke="#444" stroke-width="0.7"/>
<text transform="translate(204.30,511.80) scale(0.970,1)" font-size="10.30" text-anchor="end">40</text>
<rect x="232.80" y="430.50" width="1.4" height="42.80" fill="#FFD000"/>
<rect x="237.84" y="430.50" width="1.4" height="42.80" fill="#FF7F27"/>
<rect x="271.44" y="430.50" width="1.4" height="42.80" fill="#E8008A"/>
<line x1="208.5" y1="473.3" x2="339.4" y2="473.3" stroke="#3a3a3a" stroke-width="1.1"/>
<rect x="313.34" y="473.30" width="1.6" height="1" fill="#9AD5F0"/>
<rect x="249.50" y="473.30" width="1.6" height="1" fill="#111"/>
<rect x="208.5" y="430.5" width="130.9" height="77.80" fill="none" stroke="#3a3a3a" stroke-width="1"/>
<polygon points="236.04,423.70 241.04,423.70 238.54,428.10" fill="#555"/>
<text transform="translate(214.00,501.70) scale(0.940,1)" font-size="10.50">Case 10</text>
<text transform="translate(187.60,467.40) rotate(-90) scale(0.950,1)" font-size="10.30" text-anchor="middle">Reads</text>
<polyline points="233.50,508.3 233.50,508.90 219.20,512.10" fill="none" stroke="#222" stroke-width="0.85"/>
<text transform="translate(222.00,513.80) rotate(-90) scale(0.960,1)" font-size="9.80" text-anchor="end">-149</text>
<polyline points="235.18,508.3 235.18,508.90 226.90,512.10" fill="none" stroke="#222" stroke-width="0.85"/>
<text transform="translate(229.70,513.80) rotate(-90) scale(0.960,1)" font-size="9.80" text-anchor="end">-148</text>
<polyline points="238.54,508.3 238.54,508.90 235.30,512.10" fill="none" stroke="#222" stroke-width="0.85"/>
<text transform="translate(238.10,513.80) rotate(-90) scale(0.960,1)" font-size="9.80" text-anchor="end">-146</text>
<polyline points="250.30,508.3 250.30,508.90 249.70,512.10" fill="none" stroke="#222" stroke-width="0.85"/>
<text transform="translate(252.50,513.80) rotate(-90) scale(0.960,1)" font-size="9.80" text-anchor="end">-139</text>
<polyline points="251.98,508.3 251.98,508.90 257.90,512.10" fill="none" stroke="#222" stroke-width="0.85"/>
<text transform="translate(260.70,513.80) rotate(-90) scale(0.960,1)" font-size="9.80" text-anchor="end">-138</text>
<polyline points="272.14,508.3 272.14,508.90 272.70,512.10" fill="none" stroke="#222" stroke-width="0.85"/>
<text transform="translate(275.50,513.80) rotate(-90) scale(0.960,1)" font-size="9.80" text-anchor="end">-126</text>
<polyline points="273.82,508.3 273.82,508.90 281.70,512.10" fill="none" stroke="#222" stroke-width="0.85"/>
<text transform="translate(284.50,513.80) rotate(-90) scale(0.960,1)" font-size="9.80" text-anchor="end">-125</text>
<polyline points="275.50,508.3 275.50,508.90 290.40,512.10" fill="none" stroke="#222" stroke-width="0.85"/>
<text transform="translate(293.20,513.80) rotate(-90) scale(0.960,1)" font-size="9.80" text-anchor="end">-124</text>
<polyline points="314.14,508.3 314.14,508.90 312.20,512.10" fill="none" stroke="#222" stroke-width="0.85"/>
<text transform="translate(315.00,513.80) rotate(-90) scale(0.960,1)" font-size="9.80" text-anchor="end">-101</text>
<polyline points="315.82,508.3 315.82,508.90 320.80,512.10" fill="none" stroke="#222" stroke-width="0.85"/>
<text transform="translate(323.60,513.80) rotate(-90) scale(0.960,1)" font-size="9.80" text-anchor="end">-100</text>
<polyline points="320.86,508.3 320.86,508.90 330.10,512.10" fill="none" stroke="#222" stroke-width="0.85"/>
<text transform="translate(332.90,513.80) rotate(-90) scale(0.960,1)" font-size="9.80" text-anchor="end">-97</text>
<rect x="381.5" y="430.5" width="130.9" height="17.70" fill="#F2FFF2"/>
<rect x="381.5" y="448.2" width="130.9" height="60.10" fill="#FFF2F0"/>
<line x1="406.50" y1="430.5" x2="406.50" y2="433.50" stroke="#222" stroke-width="0.9"/>
<line x1="406.50" y1="508.3" x2="406.50" y2="505.30" stroke="#222" stroke-width="0.9"/>
<line x1="408.18" y1="430.5" x2="408.18" y2="433.50" stroke="#222" stroke-width="0.9"/>
<line x1="408.18" y1="508.3" x2="408.18" y2="505.30" stroke="#222" stroke-width="0.9"/>
<line x1="411.54" y1="430.5" x2="411.54" y2="433.50" stroke="#222" stroke-width="0.9"/>
<line x1="411.54" y1="508.3" x2="411.54" y2="505.30" stroke="#222" stroke-width="0.9"/>
<line x1="423.30" y1="430.5" x2="423.30" y2="433.50" stroke="#222" stroke-width="0.9"/>
<line x1="423.30" y1="508.3" x2="423.30" y2="505.30" stroke="#222" stroke-width="0.9"/>
<line x1="424.98" y1="430.5" x2="424.98" y2="433.50" stroke="#222" stroke-width="0.9"/>
<line x1="424.98" y1="508.3" x2="424.98" y2="505.30" stroke="#222" stroke-width="0.9"/>
<line x1="445.14" y1="430.5" x2="445.14" y2="433.50" stroke="#222" stroke-width="0.9"/>
<line x1="445.14" y1="508.3" x2="445.14" y2="505.30" stroke="#222" stroke-width="0.9"/>
<line x1="446.82" y1="430.5" x2="446.82" y2="433.50" stroke="#222" stroke-width="0.9"/>
<line x1="446.82" y1="508.3" x2="446.82" y2="505.30" stroke="#222" stroke-width="0.9"/>
<line x1="448.50" y1="430.5" x2="448.50" y2="433.50" stroke="#222" stroke-width="0.9"/>
<line x1="448.50" y1="508.3" x2="448.50" y2="505.30" stroke="#222" stroke-width="0.9"/>
<line x1="487.14" y1="430.5" x2="487.14" y2="433.50" stroke="#222" stroke-width="0.9"/>
<line x1="487.14" y1="508.3" x2="487.14" y2="505.30" stroke="#222" stroke-width="0.9"/>
<line x1="488.82" y1="430.5" x2="488.82" y2="433.50" stroke="#222" stroke-width="0.9"/>
<line x1="488.82" y1="508.3" x2="488.82" y2="505.30" stroke="#222" stroke-width="0.9"/>
<line x1="493.86" y1="430.5" x2="493.86" y2="433.50" stroke="#222" stroke-width="0.9"/>
<line x1="493.86" y1="508.3" x2="493.86" y2="505.30" stroke="#222" stroke-width="0.9"/>
<line x1="381.5" y1="448.3" x2="383.5" y2="448.3" stroke="#444" stroke-width="0.7"/>
<line x1="510.4" y1="448.3" x2="512.4" y2="448.3" stroke="#444" stroke-width="0.7"/>
<text transform="translate(377.30,451.80) scale(0.970,1)" font-size="10.30" text-anchor="end">0</text>
<line x1="381.5" y1="468.6" x2="383.5" y2="468.6" stroke="#444" stroke-width="0.7"/>
<line x1="510.4" y1="468.6" x2="512.4" y2="468.6" stroke="#444" stroke-width="0.7"/>
<text transform="translate(377.30,472.10) scale(0.970,1)" font-size="10.30" text-anchor="end">20</text>
<line x1="381.5" y1="489.0" x2="383.5" y2="489.0" stroke="#444" stroke-width="0.7"/>
<line x1="510.4" y1="489.0" x2="512.4" y2="489.0" stroke="#444" stroke-width="0.7"/>
<text transform="translate(377.30,492.50) scale(0.970,1)" font-size="10.30" text-anchor="end">40</text>
<line x1="381.5" y1="508.5" x2="383.5" y2="508.5" stroke="#444" stroke-width="0.7"/>
<line x1="510.4" y1="508.5" x2="512.4" y2="508.5" stroke="#444" stroke-width="0.7"/>
<text transform="translate(377.30,512.00) scale(0.970,1)" font-size="10.30" text-anchor="end">60</text>
<rect x="407.38" y="430.50" width="1.6" height="19.10" fill="#222"/>
<rect x="410.89" y="430.50" width="1.3" height="17.70" fill="#FF7F27"/>
<line x1="381.5" y1="448.2" x2="512.4" y2="448.2" stroke="#3a3a3a" stroke-width="1.1"/>
<rect x="422.50" y="448.20" width="1.6" height="1" fill="#111"/>
<rect x="381.5" y="430.5" width="130.9" height="77.80" fill="none" stroke="#3a3a3a" stroke-width="1"/>
<polygon points="409.04,423.70 414.04,423.70 411.54,428.10" fill="#555"/>
<text transform="translate(387.00,501.70) scale(0.940,1)" font-size="10.50">Case 11</text>
<text transform="translate(359.80,467.40) rotate(-90) scale(0.950,1)" font-size="10.30" text-anchor="middle">Reads</text>
<polyline points="406.50,508.3 406.50,508.90 392.20,512.10" fill="none" stroke="#222" stroke-width="0.85"/>
<text transform="translate(395.00,513.80) rotate(-90) scale(0.960,1)" font-size="9.80" text-anchor="end">-149</text>
<polyline points="408.18,508.3 408.18,508.90 399.90,512.10" fill="none" stroke="#222" stroke-width="0.85"/>
<text transform="translate(402.70,513.80) rotate(-90) scale(0.960,1)" font-size="9.80" text-anchor="end">-148</text>
<polyline points="411.54,508.3 411.54,508.90 408.30,512.10" fill="none" stroke="#222" stroke-width="0.85"/>
<text transform="translate(411.10,513.80) rotate(-90) scale(0.960,1)" font-size="9.80" text-anchor="end">-146</text>
<polyline points="423.30,508.3 423.30,508.90 422.70,512.10" fill="none" stroke="#222" stroke-width="0.85"/>
<text transform="translate(425.50,513.80) rotate(-90) scale(0.960,1)" font-size="9.80" text-anchor="end">-139</text>
<polyline points="424.98,508.3 424.98,508.90 430.90,512.10" fill="none" stroke="#222" stroke-width="0.85"/>
<text transform="translate(433.70,513.80) rotate(-90) scale(0.960,1)" font-size="9.80" text-anchor="end">-138</text>
<polyline points="445.14,508.3 445.14,508.90 445.70,512.10" fill="none" stroke="#222" stroke-width="0.85"/>
<text transform="translate(448.50,513.80) rotate(-90) scale(0.960,1)" font-size="9.80" text-anchor="end">-126</text>
<polyline points="446.82,508.3 446.82,508.90 454.70,512.10" fill="none" stroke="#222" stroke-width="0.85"/>
<text transform="translate(457.50,513.80) rotate(-90) scale(0.960,1)" font-size="9.80" text-anchor="end">-125</text>
<polyline points="448.50,508.3 448.50,508.90 463.40,512.10" fill="none" stroke="#222" stroke-width="0.85"/>
<text transform="translate(466.20,513.80) rotate(-90) scale(0.960,1)" font-size="9.80" text-anchor="end">-124</text>
<polyline points="487.14,508.3 487.14,508.90 485.20,512.10" fill="none" stroke="#222" stroke-width="0.85"/>
<text transform="translate(488.00,513.80) rotate(-90) scale(0.960,1)" font-size="9.80" text-anchor="end">-101</text>
<polyline points="488.82,508.3 488.82,508.90 493.80,512.10" fill="none" stroke="#222" stroke-width="0.85"/>
<text transform="translate(496.60,513.80) rotate(-90) scale(0.960,1)" font-size="9.80" text-anchor="end">-100</text>
<polyline points="493.86,508.3 493.86,508.90 503.10,512.10" fill="none" stroke="#222" stroke-width="0.85"/>
<text transform="translate(505.90,513.80) rotate(-90) scale(0.960,1)" font-size="9.80" text-anchor="end">-97</text>
<rect x="553.6" y="430.5" width="130.9" height="11.90" fill="#F2FFF2"/>
<rect x="553.6" y="442.4" width="130.9" height="65.90" fill="#FFF2F0"/>
<line x1="578.60" y1="430.5" x2="578.60" y2="433.50" stroke="#222" stroke-width="0.9"/>
<line x1="578.60" y1="508.3" x2="578.60" y2="505.30" stroke="#222" stroke-width="0.9"/>
<line x1="580.28" y1="430.5" x2="580.28" y2="433.50" stroke="#222" stroke-width="0.9"/>
<line x1="580.28" y1="508.3" x2="580.28" y2="505.30" stroke="#222" stroke-width="0.9"/>
<line x1="583.64" y1="430.5" x2="583.64" y2="433.50" stroke="#222" stroke-width="0.9"/>
<line x1="583.64" y1="508.3" x2="583.64" y2="505.30" stroke="#222" stroke-width="0.9"/>
<line x1="595.40" y1="430.5" x2="595.40" y2="433.50" stroke="#222" stroke-width="0.9"/>
<line x1="595.40" y1="508.3" x2="595.40" y2="505.30" stroke="#222" stroke-width="0.9"/>
<line x1="597.08" y1="430.5" x2="597.08" y2="433.50" stroke="#222" stroke-width="0.9"/>
<line x1="597.08" y1="508.3" x2="597.08" y2="505.30" stroke="#222" stroke-width="0.9"/>
<line x1="617.24" y1="430.5" x2="617.24" y2="433.50" stroke="#222" stroke-width="0.9"/>
<line x1="617.24" y1="508.3" x2="617.24" y2="505.30" stroke="#222" stroke-width="0.9"/>
<line x1="618.92" y1="430.5" x2="618.92" y2="433.50" stroke="#222" stroke-width="0.9"/>
<line x1="618.92" y1="508.3" x2="618.92" y2="505.30" stroke="#222" stroke-width="0.9"/>
<line x1="620.60" y1="430.5" x2="620.60" y2="433.50" stroke="#222" stroke-width="0.9"/>
<line x1="620.60" y1="508.3" x2="620.60" y2="505.30" stroke="#222" stroke-width="0.9"/>
<line x1="659.24" y1="430.5" x2="659.24" y2="433.50" stroke="#222" stroke-width="0.9"/>
<line x1="659.24" y1="508.3" x2="659.24" y2="505.30" stroke="#222" stroke-width="0.9"/>
<line x1="660.92" y1="430.5" x2="660.92" y2="433.50" stroke="#222" stroke-width="0.9"/>
<line x1="660.92" y1="508.3" x2="660.92" y2="505.30" stroke="#222" stroke-width="0.9"/>
<line x1="665.96" y1="430.5" x2="665.96" y2="433.50" stroke="#222" stroke-width="0.9"/>
<line x1="665.96" y1="508.3" x2="665.96" y2="505.30" stroke="#222" stroke-width="0.9"/>
<line x1="553.6" y1="442.4" x2="555.6" y2="442.4" stroke="#444" stroke-width="0.7"/>
<line x1="682.5" y1="442.4" x2="684.5" y2="442.4" stroke="#444" stroke-width="0.7"/>
<text transform="translate(549.40,445.90) scale(0.970,1)" font-size="10.30" text-anchor="end">0</text>
<line x1="553.6" y1="462.4" x2="555.6" y2="462.4" stroke="#444" stroke-width="0.7"/>
<line x1="682.5" y1="462.4" x2="684.5" y2="462.4" stroke="#444" stroke-width="0.7"/>
<text transform="translate(549.40,465.90) scale(0.970,1)" font-size="10.30" text-anchor="end">10</text>
<line x1="553.6" y1="481.5" x2="555.6" y2="481.5" stroke="#444" stroke-width="0.7"/>
<line x1="682.5" y1="481.5" x2="684.5" y2="481.5" stroke="#444" stroke-width="0.7"/>
<text transform="translate(549.40,485.00) scale(0.970,1)" font-size="10.30" text-anchor="end">20</text>
<line x1="553.6" y1="501.3" x2="555.6" y2="501.3" stroke="#444" stroke-width="0.7"/>
<line x1="682.5" y1="501.3" x2="684.5" y2="501.3" stroke="#444" stroke-width="0.7"/>
<text transform="translate(549.40,504.80) scale(0.970,1)" font-size="10.30" text-anchor="end">30</text>
<rect x="616.54" y="434.20" width="1.4" height="8.20" fill="#E8008A"/>
<rect x="619.95" y="430.50" width="1.3" height="11.90" fill="#90EE90"/>
<line x1="553.6" y1="442.4" x2="684.5" y2="442.4" stroke="#3a3a3a" stroke-width="1.1"/>
<rect x="618.12" y="442.40" width="1.6" height="2" fill="#111"/>
<rect x="658.44" y="439.40" width="1.6" height="3" fill="#9AD5F0"/>
<rect x="665.16" y="440.90" width="1.6" height="1.5" fill="#111"/>
<rect x="553.6" y="430.5" width="130.9" height="77.80" fill="none" stroke="#3a3a3a" stroke-width="1"/>
<polygon points="618.10,423.70 623.10,423.70 620.60,428.10" fill="#555"/>
<text transform="translate(559.10,501.70) scale(0.940,1)" font-size="10.50">Case 12</text>
<text transform="translate(533.00,467.40) rotate(-90) scale(0.950,1)" font-size="10.30" text-anchor="middle">Reads</text>
<polyline points="578.60,508.3 578.60,508.90 564.30,512.10" fill="none" stroke="#222" stroke-width="0.85"/>
<text transform="translate(567.10,513.80) rotate(-90) scale(0.960,1)" font-size="9.80" text-anchor="end">-149</text>
<polyline points="580.28,508.3 580.28,508.90 572.00,512.10" fill="none" stroke="#222" stroke-width="0.85"/>
<text transform="translate(574.80,513.80) rotate(-90) scale(0.960,1)" font-size="9.80" text-anchor="end">-148</text>
<polyline points="583.64,508.3 583.64,508.90 580.40,512.10" fill="none" stroke="#222" stroke-width="0.85"/>
<text transform="translate(583.20,513.80) rotate(-90) scale(0.960,1)" font-size="9.80" text-anchor="end">-146</text>
<polyline points="595.40,508.3 595.40,508.90 594.80,512.10" fill="none" stroke="#222" stroke-width="0.85"/>
<text transform="translate(597.60,513.80) rotate(-90) scale(0.960,1)" font-size="9.80" text-anchor="end">-139</text>
<polyline points="597.08,508.3 597.08,508.90 603.00,512.10" fill="none" stroke="#222" stroke-width="0.85"/>
<text transform="translate(605.80,513.80) rotate(-90) scale(0.960,1)" font-size="9.80" text-anchor="end">-138</text>
<polyline points="617.24,508.3 617.24,508.90 617.80,512.10" fill="none" stroke="#222" stroke-width="0.85"/>
<text transform="translate(620.60,513.80) rotate(-90) scale(0.960,1)" font-size="9.80" text-anchor="end">-126</text>
<polyline points="618.92,508.3 618.92,508.90 626.80,512.10" fill="none" stroke="#222" stroke-width="0.85"/>
<text transform="translate(629.60,513.80) rotate(-90) scale(0.960,1)" font-size="9.80" text-anchor="end">-125</text>
<polyline points="620.60,508.3 620.60,508.90 635.50,512.10" fill="none" stroke="#222" stroke-width="0.85"/>
<text transform="translate(638.30,513.80) rotate(-90) scale(0.960,1)" font-size="9.80" text-anchor="end">-124</text>
<polyline points="659.24,508.3 659.24,508.90 657.30,512.10" fill="none" stroke="#222" stroke-width="0.85"/>
<text transform="translate(660.10,513.80) rotate(-90) scale(0.960,1)" font-size="9.80" text-anchor="end">-101</text>
<polyline points="660.92,508.3 660.92,508.90 665.90,512.10" fill="none" stroke="#222" stroke-width="0.85"/>
<text transform="translate(668.70,513.80) rotate(-90) scale(0.960,1)" font-size="9.80" text-anchor="end">-100</text>
<polyline points="665.96,508.3 665.96,508.90 675.20,512.10" fill="none" stroke="#222" stroke-width="0.85"/>
<text transform="translate(678.00,513.80) rotate(-90) scale(0.960,1)" font-size="9.80" text-anchor="end">-97</text>
</svg></body></html>
